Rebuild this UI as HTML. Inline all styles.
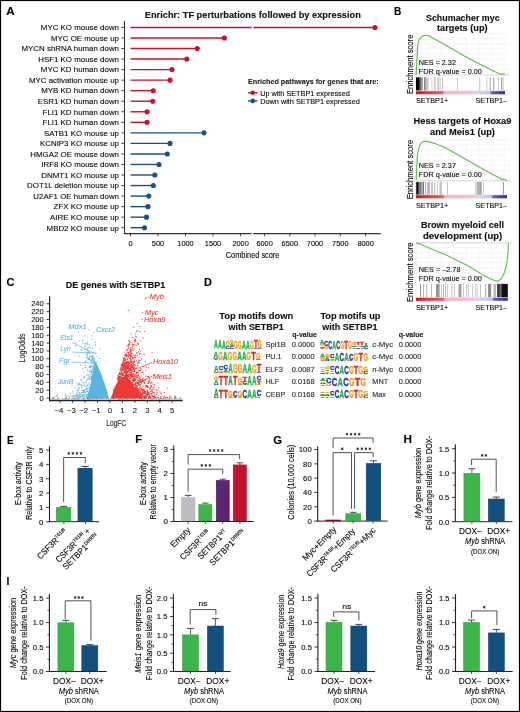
<!DOCTYPE html>
<html><head><meta charset="utf-8"><style>
html,body{margin:0;padding:0;background:#fff;}
svg{display:block;will-change:transform;}
text{font-family:"Liberation Sans", sans-serif;}
</style></head><body>
<svg width="520" height="712" viewBox="0 0 520 712">
<defs><linearGradient id="cbgrad" x1="0" x2="1" y1="0" y2="0">
<stop offset="0" stop-color="#c8101e"/><stop offset="0.12" stop-color="#e3323c"/><stop offset="0.30" stop-color="#ea5a66"/>
<stop offset="0.315" stop-color="#f4b2cb"/><stop offset="0.62" stop-color="#f2bcd3"/>
<stop offset="0.64" stop-color="#d8d4ee"/><stop offset="0.83" stop-color="#c4c2e6"/>
<stop offset="0.845" stop-color="#6464c0"/><stop offset="1" stop-color="#2a2a92"/>
</linearGradient></defs>
<rect x="0" y="0" width="520" height="712" fill="#fff"/>
<text x="6.20" y="14.80" font-size="10.8" stroke="#000" stroke-width="0.12" font-weight="bold" fill="#000" textLength="8.40" lengthAdjust="spacingAndGlyphs">A</text>
<text x="144.80" y="18.20" font-size="9.0" stroke="#111" stroke-width="0.12" font-weight="bold" fill="#111" textLength="216.00" lengthAdjust="spacingAndGlyphs">Enrichr: TF perturbations followed by expression</text>
<line x1="124.50" y1="21.00" x2="124.50" y2="234.20" stroke="#333" stroke-width="1.1"/>
<text x="119.00" y="30.25" font-size="8.1" stroke="#231f20" stroke-width="0.12" text-anchor="end" textLength="78.15" lengthAdjust="spacingAndGlyphs">MYC KO mouse down</text>
<line x1="121.30" y1="27.45" x2="124.50" y2="27.45" stroke="#333" stroke-width="0.9"/>
<line x1="130.50" y1="27.45" x2="251.70" y2="27.45" stroke="#c8102e" stroke-width="1.4"/>
<line x1="253.40" y1="27.45" x2="375.00" y2="27.45" stroke="#c8102e" stroke-width="1.4"/>
<circle cx="375.00" cy="27.45" r="2.55" fill="#c8102e"/>
<text x="119.00" y="40.79" font-size="8.1" stroke="#231f20" stroke-width="0.12" text-anchor="end" textLength="68.05" lengthAdjust="spacingAndGlyphs">MYC OE mouse up</text>
<line x1="121.30" y1="37.99" x2="124.50" y2="37.99" stroke="#333" stroke-width="0.9"/>
<line x1="130.50" y1="37.99" x2="224.30" y2="37.99" stroke="#c8102e" stroke-width="1.4"/>
<circle cx="224.30" cy="37.99" r="2.55" fill="#c8102e"/>
<text x="119.00" y="51.33" font-size="8.1" stroke="#231f20" stroke-width="0.12" text-anchor="end" textLength="97.48" lengthAdjust="spacingAndGlyphs">MYCN shRNA human down</text>
<line x1="121.30" y1="48.53" x2="124.50" y2="48.53" stroke="#333" stroke-width="0.9"/>
<line x1="130.50" y1="48.53" x2="197.30" y2="48.53" stroke="#c8102e" stroke-width="1.4"/>
<circle cx="197.30" cy="48.53" r="2.55" fill="#c8102e"/>
<text x="119.00" y="61.87" font-size="8.1" stroke="#231f20" stroke-width="0.12" text-anchor="end" textLength="80.79" lengthAdjust="spacingAndGlyphs">HSF1 KO mouse down</text>
<line x1="121.30" y1="59.07" x2="124.50" y2="59.07" stroke="#333" stroke-width="0.9"/>
<line x1="130.50" y1="59.07" x2="186.80" y2="59.07" stroke="#c8102e" stroke-width="1.4"/>
<circle cx="186.80" cy="59.07" r="2.55" fill="#c8102e"/>
<text x="119.00" y="72.41" font-size="8.1" stroke="#231f20" stroke-width="0.12" text-anchor="end" textLength="78.16" lengthAdjust="spacingAndGlyphs">MYC KD human down</text>
<line x1="121.30" y1="69.61" x2="124.50" y2="69.61" stroke="#333" stroke-width="0.9"/>
<line x1="130.50" y1="69.61" x2="172.00" y2="69.61" stroke="#c8102e" stroke-width="1.4"/>
<circle cx="172.00" cy="69.61" r="2.55" fill="#c8102e"/>
<text x="119.00" y="82.95" font-size="8.1" stroke="#231f20" stroke-width="0.12" text-anchor="end" textLength="90.01" lengthAdjust="spacingAndGlyphs">MYC activation mouse up</text>
<line x1="121.30" y1="80.15" x2="124.50" y2="80.15" stroke="#333" stroke-width="0.9"/>
<line x1="130.50" y1="80.15" x2="170.00" y2="80.15" stroke="#c8102e" stroke-width="1.4"/>
<circle cx="170.00" cy="80.15" r="2.55" fill="#c8102e"/>
<text x="119.00" y="93.49" font-size="8.1" stroke="#231f20" stroke-width="0.12" text-anchor="end" textLength="77.72" lengthAdjust="spacingAndGlyphs">MYB KD human down</text>
<line x1="121.30" y1="90.69" x2="124.50" y2="90.69" stroke="#333" stroke-width="0.9"/>
<line x1="130.50" y1="90.69" x2="153.30" y2="90.69" stroke="#c8102e" stroke-width="1.4"/>
<circle cx="153.30" cy="90.69" r="2.55" fill="#c8102e"/>
<text x="119.00" y="104.03" font-size="8.1" stroke="#231f20" stroke-width="0.12" text-anchor="end" textLength="81.24" lengthAdjust="spacingAndGlyphs">ESR1 KD human down</text>
<line x1="121.30" y1="101.23" x2="124.50" y2="101.23" stroke="#333" stroke-width="0.9"/>
<line x1="130.50" y1="101.23" x2="152.80" y2="101.23" stroke="#c8102e" stroke-width="1.4"/>
<circle cx="152.80" cy="101.23" r="2.55" fill="#c8102e"/>
<text x="119.00" y="114.57" font-size="8.1" stroke="#231f20" stroke-width="0.12" text-anchor="end" textLength="76.41" lengthAdjust="spacingAndGlyphs">FLI1 KD human down</text>
<line x1="121.30" y1="111.77" x2="124.50" y2="111.77" stroke="#333" stroke-width="0.9"/>
<line x1="130.50" y1="111.77" x2="147.00" y2="111.77" stroke="#c8102e" stroke-width="1.4"/>
<circle cx="147.00" cy="111.77" r="2.55" fill="#c8102e"/>
<text x="119.00" y="125.11" font-size="8.1" stroke="#231f20" stroke-width="0.12" text-anchor="end" textLength="76.41" lengthAdjust="spacingAndGlyphs">FLI1 KD human down</text>
<line x1="121.30" y1="122.31" x2="124.50" y2="122.31" stroke="#333" stroke-width="0.9"/>
<line x1="130.50" y1="122.31" x2="147.00" y2="122.31" stroke="#c8102e" stroke-width="1.4"/>
<circle cx="147.00" cy="122.31" r="2.55" fill="#c8102e"/>
<text x="119.00" y="135.65" font-size="8.1" stroke="#231f20" stroke-width="0.12" text-anchor="end" textLength="74.94" lengthAdjust="spacingAndGlyphs">SATB1 KO mouse up</text>
<line x1="121.30" y1="132.85" x2="124.50" y2="132.85" stroke="#333" stroke-width="0.9"/>
<line x1="130.50" y1="132.85" x2="204.00" y2="132.85" stroke="#1a4f8b" stroke-width="1.4"/>
<circle cx="204.00" cy="132.85" r="2.55" fill="#1a4f8b"/>
<text x="119.00" y="146.19" font-size="8.1" stroke="#231f20" stroke-width="0.12" text-anchor="end" textLength="79.04" lengthAdjust="spacingAndGlyphs">KCNIP3 KO mouse up</text>
<line x1="121.30" y1="143.39" x2="124.50" y2="143.39" stroke="#333" stroke-width="0.9"/>
<line x1="130.50" y1="143.39" x2="170.00" y2="143.39" stroke="#1a4f8b" stroke-width="1.4"/>
<circle cx="170.00" cy="143.39" r="2.55" fill="#1a4f8b"/>
<text x="119.00" y="156.73" font-size="8.1" stroke="#231f20" stroke-width="0.12" text-anchor="end" textLength="88.69" lengthAdjust="spacingAndGlyphs">HMGA2 OE mouse down</text>
<line x1="121.30" y1="153.93" x2="124.50" y2="153.93" stroke="#333" stroke-width="0.9"/>
<line x1="130.50" y1="153.93" x2="167.30" y2="153.93" stroke="#1a4f8b" stroke-width="1.4"/>
<circle cx="167.30" cy="153.93" r="2.55" fill="#1a4f8b"/>
<text x="119.00" y="167.27" font-size="8.1" stroke="#231f20" stroke-width="0.12" text-anchor="end" textLength="77.72" lengthAdjust="spacingAndGlyphs">IRF8 KO mouse down</text>
<line x1="121.30" y1="164.47" x2="124.50" y2="164.47" stroke="#333" stroke-width="0.9"/>
<line x1="130.50" y1="164.47" x2="159.00" y2="164.47" stroke="#1a4f8b" stroke-width="1.4"/>
<circle cx="159.00" cy="164.47" r="2.55" fill="#1a4f8b"/>
<text x="119.00" y="177.81" font-size="8.1" stroke="#231f20" stroke-width="0.12" text-anchor="end" textLength="77.71" lengthAdjust="spacingAndGlyphs">DNMT1 KO mouse up</text>
<line x1="121.30" y1="175.01" x2="124.50" y2="175.01" stroke="#333" stroke-width="0.9"/>
<line x1="130.50" y1="175.01" x2="154.80" y2="175.01" stroke="#1a4f8b" stroke-width="1.4"/>
<circle cx="154.80" cy="175.01" r="2.55" fill="#1a4f8b"/>
<text x="119.00" y="188.35" font-size="8.1" stroke="#231f20" stroke-width="0.12" text-anchor="end" textLength="91.93" lengthAdjust="spacingAndGlyphs">DOT1L deletion mouse up</text>
<line x1="121.30" y1="185.55" x2="124.50" y2="185.55" stroke="#333" stroke-width="0.9"/>
<line x1="130.50" y1="185.55" x2="153.30" y2="185.55" stroke="#1a4f8b" stroke-width="1.4"/>
<circle cx="153.30" cy="185.55" r="2.55" fill="#1a4f8b"/>
<text x="119.00" y="198.89" font-size="8.1" stroke="#231f20" stroke-width="0.12" text-anchor="end" textLength="85.63" lengthAdjust="spacingAndGlyphs">U2AF1 OE human down</text>
<line x1="121.30" y1="196.09" x2="124.50" y2="196.09" stroke="#333" stroke-width="0.9"/>
<line x1="130.50" y1="196.09" x2="148.80" y2="196.09" stroke="#1a4f8b" stroke-width="1.4"/>
<circle cx="148.80" cy="196.09" r="2.55" fill="#1a4f8b"/>
<text x="119.00" y="209.43" font-size="8.1" stroke="#231f20" stroke-width="0.12" text-anchor="end" textLength="65.42" lengthAdjust="spacingAndGlyphs">ZFX KO mouse up</text>
<line x1="121.30" y1="206.63" x2="124.50" y2="206.63" stroke="#333" stroke-width="0.9"/>
<line x1="130.50" y1="206.63" x2="148.00" y2="206.63" stroke="#1a4f8b" stroke-width="1.4"/>
<circle cx="148.00" cy="206.63" r="2.55" fill="#1a4f8b"/>
<text x="119.00" y="219.97" font-size="8.1" stroke="#231f20" stroke-width="0.12" text-anchor="end" textLength="68.94" lengthAdjust="spacingAndGlyphs">AIRE KO mouse up</text>
<line x1="121.30" y1="217.17" x2="124.50" y2="217.17" stroke="#333" stroke-width="0.9"/>
<line x1="130.50" y1="217.17" x2="146.50" y2="217.17" stroke="#1a4f8b" stroke-width="1.4"/>
<circle cx="146.50" cy="217.17" r="2.55" fill="#1a4f8b"/>
<text x="119.00" y="230.51" font-size="8.1" stroke="#231f20" stroke-width="0.12" text-anchor="end" textLength="72.45" lengthAdjust="spacingAndGlyphs">MBD2 KO mouse up</text>
<line x1="121.30" y1="227.71" x2="124.50" y2="227.71" stroke="#333" stroke-width="0.9"/>
<line x1="130.50" y1="227.71" x2="144.50" y2="227.71" stroke="#1a4f8b" stroke-width="1.4"/>
<circle cx="144.50" cy="227.71" r="2.55" fill="#1a4f8b"/>
<line x1="124.00" y1="233.60" x2="251.70" y2="233.60" stroke="#333" stroke-width="1.2"/>
<line x1="253.20" y1="233.60" x2="380.80" y2="233.60" stroke="#333" stroke-width="1.2"/>
<line x1="130.50" y1="233.60" x2="130.50" y2="236.30" stroke="#333" stroke-width="0.9"/>
<text x="130.50" y="245.80" font-size="7.2" stroke="#231f20" stroke-width="0.12" text-anchor="middle" textLength="4.10" lengthAdjust="spacingAndGlyphs">0</text>
<line x1="158.00" y1="233.60" x2="158.00" y2="236.30" stroke="#333" stroke-width="0.9"/>
<text x="158.00" y="245.80" font-size="7.2" stroke="#231f20" stroke-width="0.12" text-anchor="middle" textLength="12.30" lengthAdjust="spacingAndGlyphs">500</text>
<line x1="185.50" y1="233.60" x2="185.50" y2="236.30" stroke="#333" stroke-width="0.9"/>
<text x="185.50" y="245.80" font-size="7.2" stroke="#231f20" stroke-width="0.12" text-anchor="middle" textLength="16.40" lengthAdjust="spacingAndGlyphs">1000</text>
<line x1="213.00" y1="233.60" x2="213.00" y2="236.30" stroke="#333" stroke-width="0.9"/>
<text x="213.00" y="245.80" font-size="7.2" stroke="#231f20" stroke-width="0.12" text-anchor="middle" textLength="16.40" lengthAdjust="spacingAndGlyphs">1500</text>
<line x1="240.60" y1="233.60" x2="240.60" y2="236.30" stroke="#333" stroke-width="0.9"/>
<text x="240.60" y="245.80" font-size="7.2" stroke="#231f20" stroke-width="0.12" text-anchor="middle" textLength="16.40" lengthAdjust="spacingAndGlyphs">2000</text>
<line x1="264.60" y1="233.60" x2="264.60" y2="236.30" stroke="#333" stroke-width="0.9"/>
<text x="264.60" y="245.80" font-size="7.2" stroke="#231f20" stroke-width="0.12" text-anchor="middle" textLength="16.40" lengthAdjust="spacingAndGlyphs">6000</text>
<line x1="289.80" y1="233.60" x2="289.80" y2="236.30" stroke="#333" stroke-width="0.9"/>
<text x="289.80" y="245.80" font-size="7.2" stroke="#231f20" stroke-width="0.12" text-anchor="middle" textLength="16.40" lengthAdjust="spacingAndGlyphs">6500</text>
<line x1="315.00" y1="233.60" x2="315.00" y2="236.30" stroke="#333" stroke-width="0.9"/>
<text x="315.00" y="245.80" font-size="7.2" stroke="#231f20" stroke-width="0.12" text-anchor="middle" textLength="16.40" lengthAdjust="spacingAndGlyphs">7000</text>
<line x1="340.30" y1="233.60" x2="340.30" y2="236.30" stroke="#333" stroke-width="0.9"/>
<text x="340.30" y="245.80" font-size="7.2" stroke="#231f20" stroke-width="0.12" text-anchor="middle" textLength="16.40" lengthAdjust="spacingAndGlyphs">7500</text>
<line x1="365.60" y1="233.60" x2="365.60" y2="236.30" stroke="#333" stroke-width="0.9"/>
<text x="365.60" y="245.80" font-size="7.2" stroke="#231f20" stroke-width="0.12" text-anchor="middle" textLength="16.40" lengthAdjust="spacingAndGlyphs">8000</text>
<text x="252.60" y="257.80" font-size="8.6" stroke="#231f20" stroke-width="0.12" text-anchor="middle" textLength="53.60" lengthAdjust="spacingAndGlyphs">Combined score</text>
<text x="248.00" y="84.20" font-size="7.4" stroke="#222" stroke-width="0.12" font-weight="bold" fill="#222" textLength="130.60" lengthAdjust="spacingAndGlyphs">Enriched pathways for genes that are:</text>
<line x1="248.00" y1="92.80" x2="257.50" y2="92.80" stroke="#c8102e" stroke-width="1.4"/>
<circle cx="252.70" cy="92.80" r="2.3" fill="#c8102e"/>
<text x="260.20" y="95.50" font-size="7.6" stroke="#231f20" stroke-width="0.12" textLength="89.60" lengthAdjust="spacingAndGlyphs">Up with SETBP1 expressed</text>
<line x1="248.00" y1="100.90" x2="257.50" y2="100.90" stroke="#1a4f8b" stroke-width="1.4"/>
<circle cx="252.70" cy="100.90" r="2.3" fill="#1a4f8b"/>
<text x="260.20" y="103.60" font-size="7.6" stroke="#231f20" stroke-width="0.12" textLength="99.60" lengthAdjust="spacingAndGlyphs">Down with SETBP1 expressed</text>
<text x="394.00" y="14.90" font-size="10.8" stroke="#000" stroke-width="0.12" font-weight="bold" fill="#000" textLength="7.30" lengthAdjust="spacingAndGlyphs">B</text>
<text x="462.80" y="20.90" font-size="8.6" stroke="#111" stroke-width="0.12" text-anchor="middle" font-weight="bold" fill="#111" textLength="73.60" lengthAdjust="spacingAndGlyphs">Schumacher myc</text>
<text x="462.30" y="30.60" font-size="8.6" stroke="#111" stroke-width="0.12" text-anchor="middle" font-weight="bold" fill="#111" textLength="50.50" lengthAdjust="spacingAndGlyphs">targets (up)</text>
<line x1="416.00" y1="33.40" x2="509.00" y2="33.40" stroke="#ececec" stroke-width="0.5"/>
<line x1="416.00" y1="38.60" x2="509.00" y2="38.60" stroke="#ececec" stroke-width="0.5"/>
<line x1="416.00" y1="43.80" x2="509.00" y2="43.80" stroke="#ececec" stroke-width="0.5"/>
<line x1="416.00" y1="49.00" x2="509.00" y2="49.00" stroke="#ececec" stroke-width="0.5"/>
<line x1="416.00" y1="54.20" x2="509.00" y2="54.20" stroke="#ececec" stroke-width="0.5"/>
<line x1="416.00" y1="59.40" x2="509.00" y2="59.40" stroke="#ececec" stroke-width="0.5"/>
<line x1="416.00" y1="64.60" x2="509.00" y2="64.60" stroke="#ececec" stroke-width="0.5"/>
<line x1="416.00" y1="69.80" x2="509.00" y2="69.80" stroke="#ececec" stroke-width="0.5"/>
<line x1="416.00" y1="75.00" x2="509.00" y2="75.00" stroke="#ececec" stroke-width="0.5"/>
<line x1="428.60" y1="33.40" x2="428.60" y2="75.00" stroke="#ececec" stroke-width="0.5"/>
<line x1="441.20" y1="33.40" x2="441.20" y2="75.00" stroke="#ececec" stroke-width="0.5"/>
<line x1="453.80" y1="33.40" x2="453.80" y2="75.00" stroke="#ececec" stroke-width="0.5"/>
<line x1="466.40" y1="33.40" x2="466.40" y2="75.00" stroke="#ececec" stroke-width="0.5"/>
<line x1="479.00" y1="33.40" x2="479.00" y2="75.00" stroke="#ececec" stroke-width="0.5"/>
<line x1="491.60" y1="33.40" x2="491.60" y2="75.00" stroke="#ececec" stroke-width="0.5"/>
<line x1="504.20" y1="33.40" x2="504.20" y2="75.00" stroke="#ececec" stroke-width="0.5"/>
<line x1="416.00" y1="33.40" x2="416.00" y2="94.30" stroke="#d8d8d8" stroke-width="0.6"/>
<line x1="416.00" y1="75.00" x2="509.00" y2="75.00" stroke="#c8c8c8" stroke-width="0.6"/>
<line x1="416.00" y1="90.40" x2="509.00" y2="90.40" stroke="#d0d0d0" stroke-width="0.5"/>
<rect x="416.00" y="77.30" width="3.60" height="13.10" fill="#000"/>
<rect x="419.60" y="77.30" width="0.60" height="13.10" fill="#222"/>
<rect x="420.30" y="77.30" width="0.70" height="13.10" fill="#333"/>
<rect x="421.20" y="77.30" width="0.60" height="13.10" fill="#555"/>
<rect x="422.40" y="77.30" width="0.60" height="13.10" fill="#666"/>
<rect x="424.20" y="77.30" width="0.70" height="13.10" fill="#555"/>
<rect x="425.20" y="77.30" width="0.60" height="13.10" fill="#777"/>
<rect x="426.50" y="77.30" width="0.60" height="13.10" fill="#888"/>
<rect x="427.60" y="77.30" width="0.60" height="13.10" fill="#777"/>
<rect x="431.70" y="77.30" width="0.50" height="13.10" fill="#aaa"/>
<rect x="434.00" y="77.30" width="0.50" height="13.10" fill="#999"/>
<rect x="435.20" y="77.30" width="0.50" height="13.10" fill="#aaa"/>
<rect x="437.60" y="77.30" width="0.60" height="13.10" fill="#999"/>
<rect x="438.60" y="77.30" width="0.50" height="13.10" fill="#aaa"/>
<rect x="439.80" y="77.30" width="0.50" height="13.10" fill="#999"/>
<rect x="442.10" y="77.30" width="0.50" height="13.10" fill="#888"/>
<rect x="457.10" y="77.30" width="0.50" height="13.10" fill="#999"/>
<rect x="479.60" y="77.30" width="0.50" height="13.10" fill="#888"/>
<rect x="486.60" y="77.30" width="0.60" height="13.10" fill="#aaa"/>
<rect x="489.80" y="77.30" width="0.60" height="13.10" fill="#666"/>
<rect x="493.30" y="77.30" width="1.00" height="13.10" fill="#999"/>
<rect x="498.20" y="77.30" width="0.60" height="13.10" fill="#aaa"/>
<rect x="501.20" y="77.30" width="0.60" height="13.10" fill="#666"/>
<rect x="502.80" y="77.30" width="0.60" height="13.10" fill="#999"/>
<rect x="416.00" y="91.20" width="89.00" height="3.10" fill="url(#cbgrad)"/>
<path d="M416.20 74.60 L416.80 62.00 L417.80 45.30 L419.00 40.00 L420.20 38.20 L421.80 36.50 L423.60 35.50 L428.20 35.50 L435.00 39.30 L447.30 46.00 L464.00 55.70 L476.00 62.30 L489.60 69.10 L495.00 71.80 L498.10 73.20 L501.00 74.20 L502.50 73.60 L503.50 74.00 L505.00 74.60" stroke="#5cbf4a" stroke-width="1.1" fill="none" stroke-linejoin="round"/>
<text x="418.80" y="65.00" font-size="7.9" stroke="#231f20" stroke-width="0.12" textLength="37.10" lengthAdjust="spacingAndGlyphs">NES = 2.32</text>
<text x="418.80" y="73.50" font-size="7.9" stroke="#231f20" stroke-width="0.12" textLength="63.00" lengthAdjust="spacingAndGlyphs">FDR q-value = 0.00</text>
<text x="415.90" y="103.30" font-size="8.1" stroke="#231f20" stroke-width="0.12" textLength="32.40" lengthAdjust="spacingAndGlyphs">SETBP1+</text>
<text x="475.60" y="103.30" font-size="8.1" stroke="#231f20" stroke-width="0.12" textLength="31.40" lengthAdjust="spacingAndGlyphs">SETBP1–</text>
<text x="413.00" y="64.35" font-size="8.4" stroke="#231f20" stroke-width="0.12" text-anchor="middle" textLength="59.50" lengthAdjust="spacingAndGlyphs" transform="rotate(-90 413.00 64.35)">Enrichment score</text>
<text x="462.45" y="123.80" font-size="8.6" stroke="#111" stroke-width="0.12" text-anchor="middle" font-weight="bold" fill="#111" textLength="97.90" lengthAdjust="spacingAndGlyphs">Hess targets of Hoxa9</text>
<text x="462.45" y="135.00" font-size="8.6" stroke="#111" stroke-width="0.12" text-anchor="middle" font-weight="bold" fill="#111" textLength="64.90" lengthAdjust="spacingAndGlyphs">and Meis1 (up)</text>
<line x1="416.00" y1="139.90" x2="511.00" y2="139.90" stroke="#ececec" stroke-width="0.5"/>
<line x1="416.00" y1="145.01" x2="511.00" y2="145.01" stroke="#ececec" stroke-width="0.5"/>
<line x1="416.00" y1="150.12" x2="511.00" y2="150.12" stroke="#ececec" stroke-width="0.5"/>
<line x1="416.00" y1="155.24" x2="511.00" y2="155.24" stroke="#ececec" stroke-width="0.5"/>
<line x1="416.00" y1="160.35" x2="511.00" y2="160.35" stroke="#ececec" stroke-width="0.5"/>
<line x1="416.00" y1="165.46" x2="511.00" y2="165.46" stroke="#ececec" stroke-width="0.5"/>
<line x1="416.00" y1="170.58" x2="511.00" y2="170.58" stroke="#ececec" stroke-width="0.5"/>
<line x1="416.00" y1="175.69" x2="511.00" y2="175.69" stroke="#ececec" stroke-width="0.5"/>
<line x1="416.00" y1="180.80" x2="511.00" y2="180.80" stroke="#ececec" stroke-width="0.5"/>
<line x1="428.60" y1="139.90" x2="428.60" y2="180.80" stroke="#ececec" stroke-width="0.5"/>
<line x1="441.20" y1="139.90" x2="441.20" y2="180.80" stroke="#ececec" stroke-width="0.5"/>
<line x1="453.80" y1="139.90" x2="453.80" y2="180.80" stroke="#ececec" stroke-width="0.5"/>
<line x1="466.40" y1="139.90" x2="466.40" y2="180.80" stroke="#ececec" stroke-width="0.5"/>
<line x1="479.00" y1="139.90" x2="479.00" y2="180.80" stroke="#ececec" stroke-width="0.5"/>
<line x1="491.60" y1="139.90" x2="491.60" y2="180.80" stroke="#ececec" stroke-width="0.5"/>
<line x1="504.20" y1="139.90" x2="504.20" y2="180.80" stroke="#ececec" stroke-width="0.5"/>
<line x1="416.00" y1="139.90" x2="416.00" y2="198.30" stroke="#d8d8d8" stroke-width="0.6"/>
<line x1="416.00" y1="180.80" x2="511.00" y2="180.80" stroke="#c8c8c8" stroke-width="0.6"/>
<line x1="416.00" y1="194.60" x2="511.00" y2="194.60" stroke="#d0d0d0" stroke-width="0.5"/>
<rect x="416.20" y="181.90" width="2.50" height="12.70" fill="#111"/>
<rect x="418.80" y="181.90" width="0.80" height="12.70" fill="#333"/>
<rect x="420.30" y="181.90" width="1.00" height="12.70" fill="#444"/>
<rect x="421.80" y="181.90" width="0.70" height="12.70" fill="#555"/>
<rect x="423.00" y="181.90" width="0.80" height="12.70" fill="#555"/>
<rect x="425.40" y="181.90" width="0.60" height="12.70" fill="#777"/>
<rect x="427.10" y="181.90" width="0.50" height="12.70" fill="#888"/>
<rect x="428.40" y="181.90" width="0.60" height="12.70" fill="#777"/>
<rect x="429.40" y="181.90" width="0.50" height="12.70" fill="#888"/>
<rect x="431.10" y="181.90" width="0.50" height="12.70" fill="#999"/>
<rect x="432.40" y="181.90" width="0.50" height="12.70" fill="#888"/>
<rect x="434.60" y="181.90" width="0.50" height="12.70" fill="#777"/>
<rect x="437.50" y="181.90" width="0.50" height="12.70" fill="#999"/>
<rect x="439.80" y="181.90" width="0.60" height="12.70" fill="#666"/>
<rect x="441.50" y="181.90" width="0.50" height="12.70" fill="#999"/>
<rect x="447.30" y="181.90" width="0.50" height="12.70" fill="#888"/>
<rect x="475.70" y="181.90" width="0.60" height="12.70" fill="#777"/>
<rect x="477.60" y="181.90" width="0.70" height="12.70" fill="#555"/>
<rect x="478.80" y="181.90" width="0.60" height="12.70" fill="#444"/>
<rect x="480.20" y="181.90" width="0.60" height="12.70" fill="#666"/>
<rect x="481.30" y="181.90" width="0.50" height="12.70" fill="#777"/>
<rect x="483.10" y="181.90" width="0.50" height="12.70" fill="#999"/>
<rect x="503.30" y="181.90" width="0.60" height="12.70" fill="#555"/>
<rect x="416.00" y="195.20" width="91.00" height="3.10" fill="url(#cbgrad)"/>
<path d="M416.20 180.00 L416.80 165.00 L417.70 153.70 L419.30 146.30 L421.20 143.00 L423.60 141.40 L426.50 141.30 L430.00 142.10 L435.00 143.50 L440.00 145.40 L445.00 147.60 L450.00 150.20 L460.00 155.90 L470.00 161.70 L480.00 167.40 L490.00 172.90 L497.00 176.80 L502.60 180.00 L503.60 178.80 L504.60 179.40 L507.00 180.80" stroke="#5cbf4a" stroke-width="1.1" fill="none" stroke-linejoin="round"/>
<text x="418.80" y="167.80" font-size="7.9" stroke="#231f20" stroke-width="0.12" textLength="37.10" lengthAdjust="spacingAndGlyphs">NES = 2.37</text>
<text x="418.80" y="176.70" font-size="7.9" stroke="#231f20" stroke-width="0.12" textLength="63.00" lengthAdjust="spacingAndGlyphs">FDR q-value = 0.00</text>
<text x="415.90" y="207.50" font-size="8.1" stroke="#231f20" stroke-width="0.12" textLength="32.40" lengthAdjust="spacingAndGlyphs">SETBP1+</text>
<text x="475.60" y="207.50" font-size="8.1" stroke="#231f20" stroke-width="0.12" textLength="31.40" lengthAdjust="spacingAndGlyphs">SETBP1–</text>
<text x="413.00" y="169.60" font-size="8.4" stroke="#231f20" stroke-width="0.12" text-anchor="middle" textLength="59.50" lengthAdjust="spacingAndGlyphs" transform="rotate(-90 413.00 169.60)">Enrichment score</text>
<text x="462.45" y="228.00" font-size="8.6" stroke="#111" stroke-width="0.12" text-anchor="middle" font-weight="bold" fill="#111" textLength="83.10" lengthAdjust="spacingAndGlyphs">Brown myeloid cell</text>
<text x="462.65" y="238.60" font-size="8.6" stroke="#111" stroke-width="0.12" text-anchor="middle" font-weight="bold" fill="#111" textLength="79.30" lengthAdjust="spacingAndGlyphs">development (up)</text>
<line x1="416.00" y1="242.80" x2="511.80" y2="242.80" stroke="#ececec" stroke-width="0.5"/>
<line x1="416.00" y1="247.75" x2="511.80" y2="247.75" stroke="#ececec" stroke-width="0.5"/>
<line x1="416.00" y1="252.70" x2="511.80" y2="252.70" stroke="#ececec" stroke-width="0.5"/>
<line x1="416.00" y1="257.65" x2="511.80" y2="257.65" stroke="#ececec" stroke-width="0.5"/>
<line x1="416.00" y1="262.60" x2="511.80" y2="262.60" stroke="#ececec" stroke-width="0.5"/>
<line x1="416.00" y1="267.55" x2="511.80" y2="267.55" stroke="#ececec" stroke-width="0.5"/>
<line x1="416.00" y1="272.50" x2="511.80" y2="272.50" stroke="#ececec" stroke-width="0.5"/>
<line x1="416.00" y1="277.45" x2="511.80" y2="277.45" stroke="#ececec" stroke-width="0.5"/>
<line x1="416.00" y1="282.40" x2="511.80" y2="282.40" stroke="#ececec" stroke-width="0.5"/>
<line x1="428.60" y1="242.80" x2="428.60" y2="282.40" stroke="#ececec" stroke-width="0.5"/>
<line x1="441.20" y1="242.80" x2="441.20" y2="282.40" stroke="#ececec" stroke-width="0.5"/>
<line x1="453.80" y1="242.80" x2="453.80" y2="282.40" stroke="#ececec" stroke-width="0.5"/>
<line x1="466.40" y1="242.80" x2="466.40" y2="282.40" stroke="#ececec" stroke-width="0.5"/>
<line x1="479.00" y1="242.80" x2="479.00" y2="282.40" stroke="#ececec" stroke-width="0.5"/>
<line x1="491.60" y1="242.80" x2="491.60" y2="282.40" stroke="#ececec" stroke-width="0.5"/>
<line x1="504.20" y1="242.80" x2="504.20" y2="282.40" stroke="#ececec" stroke-width="0.5"/>
<line x1="416.00" y1="242.80" x2="416.00" y2="300.80" stroke="#d8d8d8" stroke-width="0.6"/>
<line x1="416.00" y1="242.80" x2="511.80" y2="242.80" stroke="#c8c8c8" stroke-width="0.6"/>
<line x1="416.00" y1="297.20" x2="511.80" y2="297.20" stroke="#d0d0d0" stroke-width="0.5"/>
<rect x="420.20" y="283.90" width="0.60" height="13.30" fill="#555"/>
<rect x="423.50" y="283.90" width="0.50" height="13.30" fill="#777"/>
<rect x="426.60" y="283.90" width="0.50" height="13.30" fill="#777"/>
<rect x="431.50" y="283.90" width="0.50" height="13.30" fill="#777"/>
<rect x="436.40" y="283.90" width="0.60" height="13.30" fill="#555"/>
<rect x="437.40" y="283.90" width="0.60" height="13.30" fill="#444"/>
<rect x="438.30" y="283.90" width="0.60" height="13.30" fill="#666"/>
<rect x="439.50" y="283.90" width="0.50" height="13.30" fill="#777"/>
<rect x="441.30" y="283.90" width="0.50" height="13.30" fill="#888"/>
<rect x="443.20" y="283.90" width="0.50" height="13.30" fill="#777"/>
<rect x="445.00" y="283.90" width="0.50" height="13.30" fill="#888"/>
<rect x="447.50" y="283.90" width="0.50" height="13.30" fill="#999"/>
<rect x="451.70" y="283.90" width="0.50" height="13.30" fill="#888"/>
<rect x="454.30" y="283.90" width="0.50" height="13.30" fill="#999"/>
<rect x="458.60" y="283.90" width="1.00" height="13.30" fill="#888"/>
<rect x="459.80" y="283.90" width="0.80" height="13.30" fill="#666"/>
<rect x="460.80" y="283.90" width="0.50" height="13.30" fill="#777"/>
<rect x="463.50" y="283.90" width="0.50" height="13.30" fill="#999"/>
<rect x="466.00" y="283.90" width="0.50" height="13.30" fill="#888"/>
<rect x="468.40" y="283.90" width="0.50" height="13.30" fill="#999"/>
<rect x="472.30" y="283.90" width="0.50" height="13.30" fill="#999"/>
<rect x="475.20" y="283.90" width="0.50" height="13.30" fill="#aaa"/>
<rect x="476.80" y="283.90" width="0.50" height="13.30" fill="#999"/>
<rect x="480.10" y="283.90" width="0.50" height="13.30" fill="#888"/>
<rect x="485.50" y="283.90" width="0.60" height="13.30" fill="#777"/>
<rect x="488.10" y="283.90" width="3.00" height="13.30" fill="#8a8a8a"/>
<rect x="493.50" y="283.90" width="2.50" height="13.30" fill="#bbb"/>
<rect x="497.00" y="283.90" width="3.50" height="13.30" fill="#444"/>
<rect x="500.60" y="283.90" width="1.00" height="13.30" fill="#222"/>
<rect x="501.60" y="283.90" width="6.20" height="13.30" fill="#111"/>
<rect x="416.00" y="297.80" width="91.80" height="3.00" fill="url(#cbgrad)"/>
<path d="M416.00 242.80 L417.70 243.80 L419.80 243.40 L422.00 245.00 L426.20 246.80 L447.30 255.50 L468.50 266.00 L481.80 274.40 L489.60 278.40 L494.00 280.20 L498.00 281.20 L501.40 278.70 L504.20 273.00 L506.30 266.50 L507.30 259.00 L507.80 254.60 L508.50 243.00" stroke="#5cbf4a" stroke-width="1.1" fill="none" stroke-linejoin="round"/>
<text x="418.80" y="271.80" font-size="7.9" stroke="#231f20" stroke-width="0.12" textLength="41.70" lengthAdjust="spacingAndGlyphs">NES = –2.78</text>
<text x="418.80" y="280.70" font-size="7.9" stroke="#231f20" stroke-width="0.12" textLength="63.00" lengthAdjust="spacingAndGlyphs">FDR q-value = 0.00</text>
<text x="415.90" y="309.50" font-size="8.1" stroke="#231f20" stroke-width="0.12" textLength="32.40" lengthAdjust="spacingAndGlyphs">SETBP1+</text>
<text x="475.60" y="309.50" font-size="8.1" stroke="#231f20" stroke-width="0.12" textLength="31.40" lengthAdjust="spacingAndGlyphs">SETBP1–</text>
<text x="413.00" y="272.30" font-size="8.4" stroke="#231f20" stroke-width="0.12" text-anchor="middle" textLength="59.50" lengthAdjust="spacingAndGlyphs" transform="rotate(-90 413.00 272.30)">Enrichment score</text>
<text x="6.50" y="285.60" font-size="10.8" stroke="#000" stroke-width="0.12" font-weight="bold" fill="#000" textLength="7.90" lengthAdjust="spacingAndGlyphs">C</text>
<text x="65.70" y="288.30" font-size="9.0" stroke="#111" stroke-width="0.12" font-weight="bold" fill="#111" textLength="99.60" lengthAdjust="spacingAndGlyphs">DE genes with SETBP1</text>
<path d="M87.5 398.4 L90.0 387 L92.3 376 L94.0 367 L95.5 362.0 L97.0 364.5 L100.5 372.5 L103.5 381 L106.5 389.5 L108.8 398.4 Z" stroke="none" stroke-width="1" fill="#5ab4e4"/>
<path d="M111.0 398.4 L113.8 390 L116.6 383.5 L119.5 379.5 L122.5 377.5 L126 377 L129.5 379.5 L132.5 384 L136 390 L140 395 L143 398.4 Z" stroke="none" stroke-width="1" fill="#ee3a34"/>
<path d="M94.0 362.9h0M94.1 374.5h0M91.5 373.1h0M96.5 367.5h0M88.7 358.1h0M88.6 394.5h0M91.6 376.7h0M96.2 370.7h0M97.0 379.1h0M96.2 364.6h0M92.6 380.5h0M93.7 371.6h0M93.3 383.5h0M91.9 366.7h0M96.6 391.0h0M87.3 374.6h0M94.6 381.5h0M96.9 371.0h0M89.4 358.5h0M95.5 388.3h0M97.3 378.7h0M93.3 387.8h0M91.3 377.5h0M89.5 366.7h0M96.4 380.4h0M90.7 356.4h0M95.9 364.0h0M89.0 352.2h0M87.5 379.0h0M98.2 395.5h0M90.0 347.6h0M97.1 372.2h0M92.5 375.9h0M91.7 356.8h0M100.6 376.3h0M89.8 372.0h0M94.4 374.3h0M100.3 384.5h0M99.8 387.9h0M92.0 361.3h0M96.3 368.1h0M94.3 366.2h0M97.2 370.1h0M93.4 375.3h0M93.7 364.7h0M90.7 366.7h0M96.5 366.8h0M93.4 360.9h0M96.1 377.4h0M92.9 371.5h0M94.1 371.0h0M84.6 376.9h0M98.8 386.5h0M88.5 375.0h0M93.7 361.4h0M99.1 390.4h0M97.6 391.0h0M94.4 367.4h0M99.0 374.2h0M98.5 373.8h0M89.2 391.2h0M97.3 383.6h0M91.1 390.7h0M100.6 383.2h0M95.0 386.1h0M98.8 372.6h0M87.5 350.4h0M94.6 378.5h0M100.7 384.4h0M92.2 355.8h0M95.4 368.4h0M86.3 375.5h0M88.0 358.6h0M96.2 378.7h0M92.4 357.8h0M87.9 385.3h0M87.5 355.1h0M90.3 370.3h0M94.3 370.5h0M92.8 366.8h0M94.2 387.7h0M92.9 355.1h0M88.7 378.5h0M95.6 386.6h0M89.1 379.0h0M98.5 378.0h0M91.6 380.9h0M89.2 371.7h0M90.5 365.0h0M86.0 365.5h0M92.6 397.3h0M97.8 374.0h0M86.5 382.4h0M96.1 376.5h0M93.9 376.7h0M102.4 394.7h0M91.5 360.4h0M91.6 371.3h0M94.9 372.8h0M91.1 375.1h0M91.8 381.9h0M94.7 362.8h0M87.6 355.6h0M96.2 379.9h0M89.7 379.4h0M96.1 367.5h0M93.5 383.7h0M90.5 388.9h0M91.7 366.5h0M86.8 380.6h0M94.8 362.8h0M92.2 371.8h0M97.4 367.2h0M93.8 359.1h0M95.2 381.7h0M92.6 370.1h0M94.6 367.9h0M95.0 367.6h0M94.5 387.7h0M96.7 372.7h0M96.7 383.6h0M87.8 369.3h0M91.5 359.7h0M93.5 389.3h0M92.1 362.8h0M96.9 367.6h0M94.9 361.7h0M98.9 385.3h0M94.4 359.9h0M93.7 357.9h0M90.6 367.5h0M98.0 369.8h0M95.8 369.3h0M94.1 360.5h0M91.0 378.9h0M95.0 390.6h0M92.4 362.1h0M97.2 370.9h0M94.1 389.9h0M99.2 382.5h0M94.3 395.6h0M87.8 370.8h0M97.4 394.8h0M88.1 385.0h0M92.6 389.7h0M95.1 366.6h0M90.0 377.2h0M91.0 385.2h0M94.7 370.0h0M96.9 392.3h0M90.3 370.4h0M94.2 374.5h0M94.8 380.7h0M94.7 379.5h0M91.3 369.6h0M89.3 367.3h0M95.6 389.4h0M94.0 374.5h0M94.9 382.0h0M94.5 371.0h0M92.3 389.1h0M93.6 380.5h0M90.8 371.7h0M93.1 368.6h0M97.0 375.9h0M92.1 366.6h0M96.9 372.3h0M96.9 385.2h0M99.5 384.3h0M94.2 369.8h0M92.8 397.9h0M83.0 395.8h0M89.9 391.7h0M83.1 382.3h0M95.3 397.9h0M88.3 394.2h0M94.1 391.8h0M90.4 393.8h0M83.5 391.6h0M93.7 398.0h0M83.6 390.8h0M86.8 395.3h0M94.6 387.9h0M84.4 377.5h0M87.0 391.0h0M83.8 397.7h0M78.3 382.0h0M93.8 387.2h0M79.5 383.5h0M92.9 394.0h0M86.7 395.3h0M86.4 388.3h0M87.1 385.2h0M86.6 395.3h0M89.3 396.0h0M82.5 396.7h0M84.6 384.0h0M90.8 397.1h0M84.6 391.8h0M82.3 394.9h0M88.5 393.5h0M89.8 379.2h0M83.5 398.0h0M101.0 381.3h0M84.4 396.6h0M87.8 394.4h0M85.8 394.8h0M87.3 391.2h0M77.5 390.1h0M87.0 388.8h0M81.8 392.5h0M83.8 392.4h0M90.7 395.3h0M89.5 397.2h0M80.0 397.8h0M89.3 393.3h0M86.5 391.4h0M82.6 392.3h0M96.3 393.1h0M87.7 396.7h0M94.7 395.3h0M91.5 391.9h0M86.9 398.0h0M78.1 385.1h0M91.5 382.4h0M90.7 396.9h0M89.2 394.8h0M79.5 396.2h0M94.5 392.9h0M81.9 385.9h0M80.9 395.1h0M95.5 394.2h0M88.2 378.0h0M84.4 392.0h0M89.6 393.2h0M81.9 387.6h0M88.5 395.9h0M80.5 396.3h0M84.3 394.0h0M86.4 397.3h0M85.2 388.6h0M94.0 394.8h0M91.2 391.3h0M87.4 391.4h0M94.6 394.7h0M86.6 396.3h0M79.5 398.0h0M83.6 394.8h0M81.4 380.3h0M87.2 395.8h0M84.3 390.1h0M85.6 392.6h0M89.4 384.0h0M83.6 397.9h0M91.2 396.6h0M88.5 392.2h0M88.5 383.1h0M83.6 376.8h0M83.8 397.9h0M87.9 388.9h0M80.8 379.2h0M90.0 390.9h0M90.1 374.4h0M88.0 395.8h0M91.6 394.8h0M95.3 387.0h0M85.1 367.1h0M91.1 394.7h0M91.6 378.7h0M87.0 395.8h0M84.5 390.6h0M83.8 392.3h0M87.2 397.5h0M86.1 389.9h0M89.5 396.8h0M90.3 396.7h0M81.2 385.0h0M89.3 389.5h0M92.4 395.0h0M79.2 383.6h0M80.8 393.6h0M80.1 397.4h0M70.5 393.2h0M79.2 396.7h0M80.9 397.7h0M82.7 396.2h0M78.8 387.4h0M76.7 394.7h0M86.4 396.3h0M78.3 390.2h0M77.2 394.4h0M88.2 397.9h0M85.7 394.5h0M80.1 397.7h0M79.6 392.5h0M92.1 394.8h0M75.8 395.6h0M73.2 395.6h0M82.1 396.7h0M81.9 390.4h0M83.2 390.4h0M75.2 395.3h0M76.8 393.8h0M79.4 396.1h0M82.0 390.2h0M79.0 396.3h0M85.8 396.8h0M71.9 385.6h0M91.1 388.2h0M78.8 396.0h0M84.3 394.8h0M77.5 392.8h0M79.6 392.9h0M73.0 393.0h0M78.9 388.4h0M77.6 395.9h0M81.5 394.6h0M74.1 396.1h0M78.7 394.8h0M79.1 394.3h0M87.1 357.7h0M78.6 332.2h0M87.4 353.5h0M93.6 368.0h0M81.9 349.9h0M97.0 373.6h0M94.6 362.1h0M85.3 361.8h0M89.0 359.1h0M89.6 359.4h0M92.8 366.4h0M86.0 344.6h0M89.6 356.8h0M87.6 348.3h0M87.8 344.2h0M102.1 381.1h0M88.8 347.6h0M90.5 360.5h0M82.8 343.7h0M82.4 340.4h0M88.1 351.5h0M84.0 371.8h0M86.9 343.6h0M79.7 356.4h0M95.4 380.1h0M89.4 352.7h0M92.3 358.9h0M91.8 360.7h0M83.0 341.1h0M92.5 359.2h0M86.1 354.3h0M89.3 376.3h0M91.1 356.2h0M92.3 357.8h0M85.9 361.2h0M88.0 359.8h0M85.2 346.1h0M84.5 345.8h0M85.9 349.2h0M87.3 352.6h0M91.7 372.2h0M88.0 351.3h0M88.7 352.2h0M89.6 353.3h0M89.6 356.5h0M72.5 396.2h0M66.3 398.0h0M66.1 397.2h0M78.6 397.8h0M76.0 395.6h0M72.5 396.1h0M57.4 395.6h0M65.8 395.7h0M77.6 397.7h0M74.1 395.8h0M53.8 397.2h0M73.2 397.7h0M77.1 397.4h0M74.8 397.7h0M66.1 395.8h0M57.8 397.4h0M66.2 397.3h0M53.0 397.6h0M56.5 395.8h0M71.0 395.9h0M56.7 396.1h0M55.2 396.8h0M69.8 397.2h0M76.4 396.7h0M68.2 395.9h0M89.7 398.1h0M100.9 376.4h0M95.2 389.8h0M96.9 368.4h0M101.1 397.8h0M100.0 386.2h0M100.6 377.7h0M98.4 394.6h0M92.3 383.2h0M100.8 379.3h0M90.4 396.1h0M106.1 390.5h0M96.1 371.6h0M99.5 374.8h0M101.3 378.2h0M92.8 394.9h0M96.1 370.7h0M91.7 384.1h0M98.3 385.4h0M94.1 372.9h0M88.5 394.4h0M104.2 388.0h0M94.6 389.3h0M102.3 392.8h0M99.3 377.9h0M93.2 385.4h0M103.3 396.4h0M92.6 395.0h0M100.9 387.2h0M101.7 397.6h0M97.5 392.6h0M102.4 393.2h0M96.8 388.4h0M99.6 373.2h0M92.0 384.7h0M89.2 395.2h0M89.8 395.8h0M94.8 367.2h0M102.3 385.1h0M102.3 388.8h0M95.2 391.8h0M105.0 394.4h0M88.9 393.6h0M107.0 396.4h0M105.6 391.6h0M101.0 392.0h0M94.3 377.4h0M93.5 388.1h0M95.3 373.7h0M96.8 390.1h0M94.9 387.6h0M99.0 369.9h0M103.7 397.6h0M98.0 391.0h0M94.9 392.3h0M93.1 396.4h0M93.5 369.8h0M102.4 380.1h0M89.2 390.7h0M102.3 390.6h0M100.9 374.9h0M96.0 376.4h0M95.6 394.2h0M92.5 378.8h0M98.8 389.5h0M103.5 385.5h0M94.9 373.9h0M90.8 392.7h0M101.6 389.0h0M104.0 383.1h0M102.5 392.7h0M92.8 373.9h0M94.5 368.9h0M89.7 397.0h0M91.7 385.2h0M95.8 363.2h0M96.0 390.8h0M102.3 380.2h0M101.0 378.9h0M96.1 389.0h0M99.7 389.3h0M96.5 370.3h0M102.9 394.0h0M104.0 387.5h0M101.2 378.5h0M94.2 384.9h0M104.2 388.0h0M96.5 378.6h0M100.7 376.9h0M101.9 395.9h0M91.4 385.8h0M97.9 397.5h0M90.9 390.5h0M99.0 388.1h0M98.4 385.3h0M96.2 396.5h0M92.0 386.9h0M95.9 389.8h0M90.1 397.8h0M95.1 364.1h0M93.3 376.5h0M96.5 387.4h0M95.0 371.7h0M92.3 389.0h0M92.2 391.2h0M95.8 369.7h0M90.3 390.3h0M104.7 385.1h0M97.5 382.5h0M92.3 397.1h0M95.0 385.3h0M104.9 391.7h0M97.5 372.7h0M95.5 371.2h0M96.6 368.8h0M93.5 370.9h0M93.9 379.5h0M96.6 385.2h0M107.3 393.1h0M90.5 392.3h0M92.5 390.3h0M94.9 367.6h0M106.8 390.8h0M91.1 394.4h0M100.5 390.4h0M101.7 394.5h0M104.3 392.5h0M91.7 387.2h0M98.8 389.0h0M96.8 394.1h0M99.3 371.6h0M97.4 367.3h0M98.0 380.1h0M99.0 393.4h0M97.5 382.5h0M101.7 392.6h0M95.5 377.2h0M101.1 385.2h0M102.0 395.9h0M94.5 397.7h0M98.4 379.6h0M102.8 384.8h0M94.7 393.4h0M95.3 379.3h0M98.7 390.0h0M92.0 377.8h0M96.5 382.2h0M98.2 371.9h0M98.3 397.5h0M101.4 390.8h0M94.5 373.5h0M93.9 383.3h0M101.0 390.5h0M101.5 390.7h0M100.6 384.8h0M102.3 383.7h0M101.7 378.7h0M104.0 395.3h0M101.5 375.4h0M105.0 390.6h0M99.5 371.4h0M93.9 377.4h0M94.3 377.7h0M101.2 396.0h0M100.1 396.1h0M96.3 365.7h0M90.1 397.2h0M89.4 393.7h0M102.7 393.1h0M100.9 387.8h0M97.3 395.9h0M92.9 397.1h0M94.1 388.6h0M91.0 393.3h0M95.3 382.9h0M96.8 386.6h0M90.6 391.0h0M95.2 385.5h0M100.9 377.2h0M95.7 390.6h0M99.6 372.6h0M88.8 397.5h0M102.5 392.1h0M94.6 384.1h0M100.3 373.2h0M96.6 394.3h0M95.5 386.9h0M100.3 394.6h0M96.5 383.4h0M104.9 394.3h0M104.8 393.6h0M99.7 372.0h0M105.6 391.4h0M102.1 395.3h0M94.9 365.1h0M99.3 391.0h0M91.8 389.3h0M100.4 386.7h0M97.4 369.5h0M92.9 389.3h0M89.4 391.4h0M99.8 394.6h0M97.7 383.5h0M91.3 387.5h0M95.2 382.5h0M96.1 380.8h0M100.2 374.6h0M88.2 398.1h0M99.6 371.5h0M104.9 397.1h0M99.4 393.7h0M97.3 396.5h0M100.2 376.5h0M90.1 396.9h0M93.0 382.5h0M101.1 396.8h0M101.8 376.3h0M97.0 367.8h0M108.1 398.1h0M92.9 374.8h0M106.7 394.9h0M104.2 387.8h0M101.3 397.9h0M103.6 396.2h0M100.1 389.6h0M97.8 368.1h0M88.3 395.8h0M92.2 396.0h0M106.0 394.3h0M89.6 395.8h0M97.1 374.4h0M102.7 382.1h0M90.6 393.7h0M93.2 377.0h0M94.3 394.9h0M89.9 397.6h0M88.7 394.6h0M97.7 372.4h0M95.3 398.1h0M91.3 390.0h0M100.5 380.0h0M100.5 387.8h0M105.4 393.5h0M91.5 392.3h0M95.3 368.0h0M95.4 383.7h0M97.0 380.8h0M90.1 388.0h0M104.9 393.5h0M94.3 387.9h0M89.0 329.9h0M93.4 332.8h0M84.4 335.9h0M87.9 337.0h0M91.7 335.9h0M91.7 339.3h0M79.5 341.1h0M85.2 343.4h0M87.1 342.2h0M89.6 345.1h0M95.4 342.2h0M95.4 344.8h0M76.0 342.8h0M75.8 345.7h0M81.0 349.7h0M83.3 348.6h0M100.0 349.2h0M92.5 348.6h0M86.2 357.8h0M90.8 356.1h0M93.0 357.2h0M99.4 358.4h0M88.5 359.0h0M80.4 365.3h0M85.6 367.6h0M82.7 368.8h0M98.8 361.8h0M93.5 352.2h0M95.5 353.5h0M94.0 363.3h0M96.5 362.5h0M91.0 360.0h0M97.0 356.0h0M92.0 366.0h0M96.0 367.0h0M65.3 394.4h0M72.8 391.0h0M75.7 387.0h0M78.0 391.0h0" stroke="#5ab4e4" stroke-width="1.25" stroke-linecap="round" fill="none"/>
<path d="M138.2 362.2h0M132.8 376.4h0M123.6 372.7h0M129.9 374.0h0M126.3 366.6h0M128.1 371.0h0M123.5 380.2h0M134.4 370.1h0M117.4 379.4h0M124.0 377.9h0M132.6 387.2h0M128.4 370.2h0M124.3 365.6h0M121.8 368.2h0M130.5 358.6h0M124.9 379.9h0M129.6 385.5h0M126.1 383.8h0M125.4 360.4h0M130.4 395.2h0M133.0 366.9h0M140.8 380.0h0M125.0 358.5h0M120.5 381.3h0M122.4 373.0h0M128.8 371.2h0M136.9 376.4h0M134.1 379.2h0M130.3 397.3h0M126.4 374.4h0M121.5 380.0h0M122.6 381.5h0M121.2 378.9h0M130.5 375.4h0M131.8 360.1h0M133.1 376.4h0M124.1 357.6h0M121.1 373.7h0M127.6 367.3h0M123.8 362.7h0M132.5 363.5h0M130.1 387.2h0M128.3 352.6h0M119.0 381.6h0M123.1 363.1h0M126.5 356.8h0M131.5 371.2h0M128.3 379.4h0M126.4 368.0h0M130.2 382.2h0M131.4 367.2h0M128.9 366.2h0M136.1 377.5h0M128.6 362.4h0M114.8 389.0h0M128.7 386.3h0M124.2 393.5h0M125.5 386.8h0M127.4 392.0h0M128.1 375.6h0M125.4 373.0h0M125.9 389.3h0M118.4 378.0h0M128.0 397.9h0M119.7 380.0h0M124.0 382.8h0M128.1 396.7h0M127.4 362.0h0M130.6 358.7h0M122.4 374.8h0M130.4 377.6h0M132.4 392.8h0M129.6 374.4h0M127.2 371.8h0M117.5 378.1h0M135.6 382.9h0M122.2 384.0h0M121.2 386.3h0M130.5 364.8h0M132.9 375.4h0M131.4 372.4h0M127.9 362.1h0M138.0 375.4h0M121.6 372.6h0M133.4 384.3h0M130.6 380.9h0M128.2 363.1h0M126.7 364.5h0M118.5 385.0h0M123.7 375.0h0M131.0 371.8h0M130.1 386.6h0M122.7 379.6h0M118.6 378.1h0M128.0 366.9h0M125.2 378.3h0M128.5 367.4h0M115.4 387.5h0M126.0 371.3h0M125.8 383.5h0M123.6 384.0h0M127.7 363.1h0M137.3 355.6h0M119.4 378.1h0M138.9 362.9h0M125.0 368.2h0M137.5 382.9h0M127.4 382.2h0M125.3 359.2h0M124.0 381.1h0M125.2 364.1h0M122.2 365.6h0M130.7 374.0h0M121.8 374.5h0M122.9 369.4h0M134.4 355.1h0M121.9 364.3h0M127.1 362.2h0M125.2 368.6h0M121.7 382.3h0M131.1 355.2h0M129.6 366.4h0M126.9 378.0h0M126.4 379.3h0M129.5 341.3h0M120.0 372.4h0M121.5 370.1h0M123.5 381.8h0M132.5 382.3h0M121.4 364.9h0M121.2 377.7h0M127.5 376.9h0M119.5 376.7h0M122.7 368.6h0M131.0 349.4h0M132.0 361.5h0M124.2 367.5h0M123.1 363.5h0M132.8 357.4h0M123.6 359.2h0M135.2 384.3h0M135.3 389.5h0M128.8 364.4h0M135.4 368.5h0M121.6 382.5h0M123.3 381.4h0M128.7 382.0h0M121.9 378.1h0M136.6 353.1h0M123.9 392.5h0M126.9 371.2h0M127.4 364.7h0M130.9 369.4h0M122.2 378.3h0M129.8 386.4h0M123.9 381.8h0M124.8 371.6h0M131.1 391.5h0M124.5 368.3h0M130.8 386.2h0M130.0 369.2h0M134.5 357.3h0M128.8 344.2h0M125.0 377.6h0M122.6 384.3h0M124.8 396.5h0M124.4 366.6h0M131.9 376.6h0M134.7 380.6h0M124.1 396.5h0M119.7 382.4h0M135.2 365.4h0M128.3 375.1h0M125.2 376.0h0M121.3 394.6h0M124.4 355.8h0M134.8 375.6h0M119.9 374.8h0M131.1 367.6h0M121.0 367.5h0M123.6 365.6h0M122.2 390.8h0M125.4 362.5h0M131.0 376.8h0M130.7 359.1h0M130.0 355.3h0M118.7 380.5h0M126.3 396.5h0M129.4 365.0h0M122.0 365.3h0M130.3 368.2h0M128.6 353.0h0M121.8 370.1h0M122.2 366.1h0M125.9 371.3h0M136.6 373.2h0M134.6 361.7h0M133.9 374.2h0M131.3 362.6h0M120.8 368.7h0M124.1 372.5h0M133.8 381.2h0M113.6 394.0h0M121.9 380.2h0M125.1 365.0h0M136.9 368.2h0M128.1 381.3h0M128.9 355.1h0M134.1 396.6h0M131.0 352.2h0M130.6 390.8h0M122.9 364.7h0M127.8 382.3h0M125.1 368.3h0M129.6 390.5h0M139.0 389.7h0M128.2 362.9h0M122.5 374.7h0M123.4 379.3h0M126.7 370.1h0M120.8 369.0h0M124.9 373.1h0M132.4 393.6h0M126.7 385.4h0M118.4 393.1h0M128.5 376.5h0M119.0 376.8h0M126.0 366.9h0M140.1 377.2h0M134.5 376.4h0M125.9 376.3h0M120.7 388.0h0M132.7 376.4h0M121.5 380.9h0M129.5 370.6h0M121.7 384.9h0M133.8 362.4h0M118.5 377.3h0M128.3 366.7h0M131.8 382.5h0M135.6 355.3h0M124.9 366.3h0M119.8 374.0h0M126.3 355.3h0M131.4 361.9h0M122.6 374.9h0M122.7 369.3h0M125.1 378.5h0M136.2 373.3h0M135.6 357.5h0M121.7 367.1h0M133.7 376.3h0M125.6 379.1h0M125.4 376.5h0M125.6 359.6h0M134.4 370.4h0M126.4 361.4h0M123.1 385.3h0M132.5 383.8h0M131.3 384.1h0M137.3 385.1h0M130.7 353.4h0M119.5 394.1h0M129.9 363.3h0M124.6 375.9h0M122.5 375.7h0M137.1 352.8h0M122.6 381.0h0M127.7 358.8h0M129.9 386.7h0M126.1 370.3h0M134.7 357.2h0M128.5 356.9h0M122.1 367.2h0M131.2 383.5h0M120.3 394.0h0M126.1 372.8h0M122.8 365.9h0M125.6 375.4h0M130.3 350.2h0M122.0 383.8h0M120.9 370.9h0M128.9 382.8h0M131.7 384.9h0M130.6 366.8h0M128.1 345.2h0M123.2 374.2h0M128.2 361.3h0M134.2 371.5h0M124.3 369.8h0M128.8 370.0h0M122.3 381.2h0M126.8 372.3h0M133.4 388.2h0M118.3 385.8h0M129.0 397.4h0M134.8 379.5h0M124.5 387.6h0M120.7 381.2h0M118.2 376.3h0M130.9 367.7h0M125.2 362.6h0M122.8 366.4h0M139.2 370.9h0M119.6 376.7h0M126.3 367.9h0M123.1 361.5h0M123.7 388.4h0M130.9 376.6h0M133.2 380.3h0M128.8 368.2h0M132.3 365.9h0M129.5 378.3h0M124.9 369.3h0M127.8 363.3h0M123.6 380.9h0M121.2 367.0h0M122.2 379.0h0M122.7 375.2h0M130.2 396.8h0M122.9 366.2h0M128.3 357.2h0M132.1 385.2h0M129.3 376.3h0M120.8 382.8h0M122.3 382.7h0M131.8 367.4h0M134.4 367.0h0M120.6 377.9h0M123.9 371.6h0M133.0 379.7h0M127.4 372.4h0M116.5 385.8h0M123.5 367.0h0M127.2 366.1h0M125.3 377.7h0M127.9 384.6h0M120.0 379.0h0M124.7 382.1h0M122.1 393.5h0M126.0 383.1h0M125.6 370.8h0M126.0 384.3h0M130.0 372.7h0M125.1 377.7h0M128.7 370.9h0M132.7 366.4h0M120.8 374.9h0M131.2 376.7h0M127.6 365.5h0M125.9 369.4h0M125.9 381.6h0M133.2 373.8h0M120.8 381.1h0M127.4 385.8h0M133.9 358.9h0M134.2 364.6h0M133.4 365.9h0M134.3 378.3h0M125.9 362.3h0M124.4 358.3h0M125.6 363.4h0M125.6 390.7h0M126.9 355.6h0M132.7 350.5h0M128.8 379.6h0M125.1 396.3h0M123.7 360.7h0M130.6 355.4h0M118.7 380.3h0M128.6 346.0h0M127.9 378.3h0M124.5 369.3h0M139.5 349.4h0M140.4 370.4h0M131.7 354.9h0M128.5 367.6h0M123.8 377.3h0M126.8 372.5h0M124.3 375.5h0M119.9 372.4h0M122.0 369.5h0M146.3 367.1h0M130.9 361.8h0M129.9 361.7h0M129.6 354.3h0M131.9 355.0h0M121.6 372.1h0M130.7 378.0h0M133.4 386.2h0M124.4 364.1h0M124.8 367.2h0M133.0 367.9h0M124.3 370.7h0M121.1 389.6h0M132.8 386.8h0M121.7 368.2h0M125.7 372.1h0M121.3 365.4h0M126.1 366.0h0M131.8 391.1h0M126.9 374.4h0M122.9 382.9h0M119.6 385.1h0M136.6 372.0h0M130.1 384.5h0M126.0 353.9h0M124.7 384.8h0M123.4 384.7h0M122.3 382.4h0M119.0 383.9h0M126.6 354.5h0M125.7 365.0h0M132.7 379.1h0M127.0 380.9h0M131.1 350.8h0M131.9 396.4h0M126.4 375.0h0M126.5 378.2h0M128.0 364.0h0M130.2 364.8h0M127.8 387.0h0M122.1 370.5h0M122.4 385.5h0M125.2 379.5h0M122.2 383.4h0M119.9 373.3h0M124.0 370.4h0M127.8 356.0h0M129.1 369.2h0M123.9 382.3h0M122.7 363.5h0M126.5 377.0h0M115.9 391.5h0M127.2 359.1h0M127.6 389.5h0M123.5 369.3h0M123.6 382.7h0M127.4 383.3h0M129.1 376.0h0M135.9 375.8h0M123.7 367.7h0M125.3 384.8h0M134.6 384.8h0M134.3 369.3h0M128.9 383.5h0M119.5 390.8h0M123.4 369.9h0M121.2 387.0h0M126.4 394.2h0M128.6 365.9h0M136.4 360.9h0M127.4 368.8h0M125.2 388.9h0M135.0 365.4h0M123.1 386.6h0M135.1 365.4h0M137.9 372.4h0M127.7 377.4h0M145.9 370.6h0M124.2 362.1h0M122.9 362.9h0M130.6 384.9h0M130.7 368.6h0M133.4 389.5h0M128.4 380.0h0M125.7 368.0h0M118.4 375.0h0M119.2 378.3h0M126.5 380.3h0M132.8 380.1h0M130.8 368.5h0M119.3 376.7h0M128.0 388.6h0M132.0 367.2h0M123.6 375.3h0M126.8 375.9h0M121.4 376.8h0M132.9 379.9h0M127.6 386.6h0M120.2 389.4h0M123.7 363.5h0M127.1 378.3h0M129.1 376.5h0M127.5 368.7h0M123.4 379.0h0M135.1 365.1h0M137.9 365.7h0M123.6 363.0h0M119.7 377.7h0M121.2 374.9h0M130.3 378.2h0M127.2 378.4h0M123.6 370.0h0M126.5 356.0h0M131.5 364.0h0M124.0 385.8h0M123.5 377.9h0M126.7 377.9h0M145.7 392.2h0M132.9 378.0h0M123.4 360.5h0M125.0 387.3h0M127.8 374.6h0M117.9 381.4h0M128.3 368.3h0M127.8 379.8h0M126.6 373.6h0M123.8 375.6h0M130.3 351.5h0M124.2 367.4h0M122.1 374.2h0M118.6 380.3h0M133.2 368.8h0M133.3 361.3h0M131.2 359.5h0M122.8 378.7h0M133.1 345.0h0M130.6 382.7h0M126.8 367.4h0M127.5 376.6h0M130.8 362.3h0M129.5 358.3h0M127.3 359.6h0M126.1 365.6h0M141.7 369.1h0M126.5 350.6h0M128.1 363.7h0M131.9 369.6h0M119.2 373.3h0M127.3 375.6h0M120.5 376.6h0M124.4 376.6h0M125.3 354.5h0M127.0 372.5h0M117.1 385.6h0M127.5 383.0h0M127.9 385.5h0M125.9 373.0h0M131.7 377.0h0M122.5 369.0h0M123.3 378.8h0M122.8 366.2h0M126.6 363.4h0M137.4 372.5h0M125.1 390.6h0M128.1 354.8h0M132.0 390.9h0M134.3 360.8h0M122.6 365.8h0M135.2 376.2h0M124.9 379.1h0M134.6 384.2h0M131.2 392.4h0M118.7 379.6h0M130.6 392.4h0M129.1 380.0h0M133.4 376.0h0M128.3 374.2h0M137.1 376.6h0M125.5 363.5h0M120.0 369.6h0M120.6 390.9h0M127.9 391.1h0M137.2 380.8h0M122.5 369.0h0M117.3 392.3h0M131.4 391.9h0M133.1 371.7h0M128.4 371.5h0M127.8 384.6h0M118.9 380.9h0M122.5 364.4h0M120.7 379.5h0M129.7 366.7h0M122.7 385.5h0M118.3 392.1h0M132.7 358.5h0M137.6 365.9h0M127.2 362.6h0M131.4 375.3h0M113.6 389.7h0M133.0 376.3h0M129.5 372.7h0M127.0 378.9h0M124.8 372.2h0M132.6 344.2h0M125.0 360.0h0M132.2 362.3h0M130.5 384.0h0M133.1 384.0h0M133.7 363.8h0M120.4 381.4h0M131.9 380.5h0M137.4 363.5h0M121.4 387.3h0M133.8 385.4h0M125.0 375.6h0M123.3 365.8h0M139.1 380.1h0M130.7 358.5h0M123.1 374.0h0M121.4 380.3h0M125.5 382.9h0M118.0 375.8h0M135.0 374.7h0M128.6 390.5h0M122.3 391.4h0M124.3 364.5h0M126.8 383.7h0M130.4 360.0h0M128.0 377.5h0M124.7 380.0h0M124.1 368.1h0M142.5 379.0h0M127.3 361.8h0M129.4 375.1h0M129.2 365.7h0M130.4 374.4h0M129.4 344.8h0M117.1 389.2h0M123.4 365.2h0M125.4 386.7h0M125.1 382.5h0M119.3 374.1h0M121.3 379.5h0M125.3 375.8h0M129.2 387.0h0M124.5 362.4h0M133.0 365.1h0M125.2 391.7h0M129.6 364.9h0M117.8 387.0h0M126.1 385.0h0M135.7 379.9h0M127.2 383.4h0M130.6 347.9h0M117.7 396.6h0M129.3 363.3h0M131.6 366.7h0M120.5 386.9h0M128.2 396.2h0M131.1 356.3h0M125.2 387.4h0M137.0 388.7h0M124.4 396.2h0M116.5 393.6h0M132.4 357.2h0M122.2 389.2h0M124.6 367.3h0M114.6 386.8h0M124.3 363.2h0M125.5 366.4h0M127.1 383.7h0M124.2 376.9h0M128.3 381.9h0M134.9 371.7h0M128.6 364.1h0M132.1 367.0h0M137.7 366.1h0M128.8 366.2h0M120.6 380.7h0M127.5 349.5h0M128.4 348.1h0M128.1 387.1h0M136.9 367.8h0M133.2 369.4h0M122.8 369.9h0M117.3 387.3h0M118.9 378.8h0M137.6 372.7h0M131.1 374.9h0M127.7 372.5h0M121.3 371.1h0M123.0 385.9h0M122.5 365.0h0M128.9 352.2h0M128.5 352.9h0M126.8 362.5h0M136.4 375.7h0M139.9 381.4h0M123.1 392.5h0M129.4 368.7h0M138.9 370.0h0M123.3 390.2h0M124.4 360.0h0M130.1 356.4h0M131.0 372.7h0M129.2 369.9h0M127.6 385.6h0M127.7 368.4h0M131.9 353.6h0M135.6 384.3h0M127.3 367.6h0M117.3 378.1h0M126.3 362.5h0M140.2 368.3h0M132.4 373.8h0M124.2 384.8h0M130.1 395.2h0M136.8 396.8h0M138.2 383.9h0M135.3 397.1h0M142.4 381.2h0M133.8 397.4h0M143.1 389.4h0M142.0 393.9h0M124.9 382.0h0M125.3 396.6h0M137.5 390.2h0M142.1 392.1h0M144.0 389.2h0M139.5 392.9h0M126.4 394.2h0M128.3 385.1h0M133.4 396.6h0M135.6 394.5h0M128.5 396.1h0M130.5 382.7h0M136.7 382.2h0M133.0 386.5h0M146.3 379.4h0M133.8 395.8h0M137.6 365.8h0M137.0 387.2h0M139.3 378.2h0M127.8 384.6h0M139.2 396.9h0M149.4 395.1h0M138.3 397.3h0M137.0 372.7h0M138.1 382.0h0M145.7 391.4h0M141.1 393.9h0M136.8 396.4h0M136.2 393.0h0M147.6 395.2h0M141.3 379.7h0M140.7 386.8h0M146.4 386.2h0M148.9 382.4h0M150.6 397.8h0M122.9 391.1h0M125.6 397.9h0M124.9 387.1h0M138.2 396.4h0M130.0 395.5h0M135.3 397.3h0M135.9 395.7h0M142.6 380.5h0M132.3 396.6h0M133.0 392.0h0M132.7 395.8h0M145.3 396.1h0M134.0 394.2h0M134.2 376.8h0M138.0 394.0h0M131.7 391.2h0M136.3 391.9h0M119.7 379.2h0M136.1 396.8h0M139.3 395.6h0M132.4 384.2h0M127.8 396.6h0M127.4 389.8h0M126.1 378.4h0M134.5 378.6h0M148.2 387.2h0M135.6 395.4h0M129.9 378.7h0M122.0 388.6h0M143.7 374.3h0M125.0 391.9h0M135.9 388.8h0M132.1 390.2h0M142.7 391.4h0M146.8 396.2h0M147.6 390.4h0M148.5 367.9h0M136.1 389.3h0M136.0 386.8h0M141.4 397.1h0M148.8 381.9h0M129.9 381.5h0M138.5 375.3h0M138.6 385.1h0M147.1 385.5h0M131.9 383.9h0M129.7 388.0h0M140.3 396.7h0M125.3 395.0h0M118.8 391.9h0M122.1 384.7h0M128.8 371.3h0M140.4 394.0h0M132.2 374.8h0M141.8 397.4h0M131.2 365.6h0M139.6 387.5h0M131.6 382.6h0M135.7 379.7h0M136.1 389.6h0M147.3 395.2h0M137.5 389.9h0M146.5 394.6h0M126.8 389.4h0M126.6 388.3h0M135.1 394.3h0M137.2 397.3h0M133.3 393.4h0M142.6 389.7h0M147.2 394.9h0M134.1 379.5h0M137.5 393.6h0M133.5 387.4h0M133.0 387.0h0M135.5 393.2h0M142.3 393.9h0M136.9 395.7h0M138.6 391.2h0M144.3 382.4h0M133.1 390.3h0M140.9 397.7h0M139.6 394.5h0M130.6 385.8h0M133.5 392.2h0M138.1 394.2h0M143.3 396.9h0M130.4 386.4h0M136.5 394.1h0M150.6 396.1h0M149.2 377.5h0M128.1 384.8h0M144.5 383.3h0M135.9 387.6h0M132.4 397.3h0M136.1 378.5h0M134.4 387.6h0M136.5 390.3h0M137.8 390.8h0M130.7 391.1h0M130.7 388.5h0M137.7 395.5h0M128.6 380.2h0M136.2 395.4h0M132.6 396.0h0M124.5 393.8h0M139.1 395.0h0M131.4 397.2h0M137.0 386.3h0M138.1 395.3h0M130.6 388.6h0M144.8 392.7h0M140.8 394.7h0M135.6 384.0h0M149.2 377.6h0M138.3 394.0h0M144.6 393.5h0M136.3 391.4h0M139.4 392.4h0M141.1 393.8h0M143.4 392.5h0M135.7 393.8h0M129.7 395.3h0M139.1 382.5h0M133.6 393.8h0M144.6 396.8h0M136.5 396.6h0M130.8 387.3h0M144.4 396.2h0M135.4 384.5h0M136.9 385.2h0M127.4 388.3h0M144.3 382.4h0M147.6 392.0h0M140.5 389.9h0M139.9 394.1h0M137.5 383.4h0M138.5 395.5h0M136.4 395.2h0M132.2 395.8h0M140.5 381.0h0M120.6 385.1h0M126.8 388.5h0M154.2 396.0h0M136.9 385.6h0M117.8 396.1h0M112.8 396.4h0M132.2 392.8h0M138.5 391.7h0M144.3 398.1h0M138.8 370.4h0M132.7 388.0h0M129.8 384.5h0M143.2 396.6h0M143.4 380.5h0M146.3 398.1h0M135.6 386.0h0M125.1 391.5h0M139.6 391.9h0M149.8 378.9h0M138.4 393.3h0M126.2 396.1h0M137.9 395.6h0M136.4 391.5h0M128.9 391.9h0M122.8 385.6h0M128.2 379.6h0M141.7 395.8h0M143.2 394.1h0M151.8 390.3h0M137.1 396.8h0M134.5 389.3h0M150.8 393.5h0M127.9 391.6h0M143.9 381.9h0M130.9 387.3h0M140.2 392.6h0M130.6 385.9h0M141.1 375.8h0M140.8 396.4h0M150.2 387.3h0M131.7 395.1h0M133.9 390.2h0M136.6 387.6h0M124.8 395.6h0M147.0 390.0h0M130.0 389.4h0M129.7 380.7h0M144.5 397.3h0M130.8 382.6h0M133.2 392.6h0M148.7 393.1h0M136.9 386.5h0M140.9 396.1h0M119.9 382.9h0M140.4 393.4h0M135.3 387.8h0M129.4 382.0h0M139.7 392.5h0M137.3 389.7h0M140.0 396.8h0M129.5 391.7h0M144.8 391.3h0M145.2 393.0h0M128.8 384.6h0M131.7 395.5h0M134.6 397.9h0M134.0 392.3h0M122.9 377.5h0M137.5 377.3h0M129.3 385.9h0M130.5 370.6h0M140.2 380.4h0M134.2 390.1h0M140.4 384.7h0M145.0 379.9h0M131.8 394.2h0M145.2 396.8h0M135.1 389.4h0M136.7 397.6h0M141.4 383.1h0M141.4 397.9h0M134.9 380.8h0M137.5 397.9h0M149.2 381.2h0M140.2 396.9h0M131.3 386.6h0M132.7 387.8h0M130.3 397.0h0M139.0 396.5h0M137.7 394.0h0M127.8 386.2h0M134.9 378.7h0M135.1 388.1h0M131.2 397.7h0M144.7 392.0h0M140.1 396.1h0M133.4 387.9h0M134.9 390.3h0M139.9 379.2h0M144.3 389.9h0M140.2 382.0h0M140.4 379.7h0M136.4 393.3h0M131.0 386.0h0M139.2 392.6h0M132.9 395.5h0M132.3 392.0h0M135.6 386.6h0M124.2 394.4h0M147.8 394.7h0M137.1 389.1h0M128.7 385.1h0M123.9 382.5h0M137.8 389.0h0M133.0 390.8h0M139.0 391.5h0M137.9 377.7h0M132.0 370.9h0M137.8 389.0h0M131.2 382.0h0M145.7 392.9h0M138.0 396.2h0M131.7 397.6h0M150.0 388.7h0M131.2 396.4h0M142.5 389.2h0M128.9 396.7h0M134.1 384.9h0M136.6 393.0h0M142.7 393.5h0M130.3 397.2h0M133.4 391.3h0M132.5 386.7h0M133.0 379.8h0M130.4 389.5h0M151.7 386.8h0M133.4 394.6h0M125.7 393.8h0M135.6 395.1h0M152.3 395.3h0M141.8 389.2h0M131.4 391.8h0M147.4 390.4h0M137.0 386.4h0M142.4 392.5h0M152.0 382.3h0M141.9 395.2h0M136.5 392.2h0M138.3 395.5h0M140.8 386.5h0M138.3 392.3h0M141.9 381.5h0M129.9 393.6h0M140.0 392.4h0M139.7 397.1h0M135.3 380.1h0M148.6 383.1h0M117.5 393.4h0M131.1 392.6h0M124.4 394.3h0M135.6 392.3h0M142.6 372.1h0M146.8 385.5h0M133.0 391.1h0M135.7 385.7h0M140.2 397.7h0M140.0 390.4h0M141.8 382.0h0M133.4 392.2h0M123.9 388.1h0M142.4 387.2h0M148.7 396.9h0M123.4 383.5h0M142.4 395.2h0M144.0 381.5h0M135.3 387.7h0M131.1 390.8h0M133.4 394.4h0M138.4 374.2h0M127.0 389.8h0M145.6 386.1h0M136.6 373.4h0M143.7 366.4h0M134.3 379.8h0M138.2 390.3h0M131.9 389.2h0M138.1 393.1h0M129.4 395.7h0M139.0 389.0h0M144.1 380.4h0M139.0 393.9h0M147.5 391.2h0M131.2 383.8h0M150.5 391.5h0M128.1 394.5h0M129.0 381.8h0M139.0 376.3h0M137.5 388.3h0M136.0 393.0h0M135.2 395.9h0M137.6 390.5h0M138.5 396.3h0M135.7 390.8h0M128.6 395.5h0M142.0 372.3h0M132.1 383.6h0M142.7 390.5h0M145.9 387.6h0M130.2 377.4h0M132.8 395.8h0M124.0 387.3h0M127.4 396.6h0M122.6 386.7h0M133.4 391.6h0M131.4 390.1h0M147.2 393.7h0M147.8 380.9h0M145.8 394.9h0M125.1 390.9h0M133.0 396.0h0M122.3 395.1h0M137.7 388.1h0M138.1 380.2h0M137.7 390.8h0M153.4 375.1h0M129.3 393.7h0M131.7 373.5h0M137.9 389.2h0M130.2 382.4h0M139.6 385.3h0M124.9 398.1h0M147.7 376.5h0M145.6 398.1h0M137.3 391.4h0M144.0 390.7h0M136.9 376.0h0M125.0 379.0h0M136.4 395.8h0M120.0 397.7h0M151.1 382.1h0M118.6 396.4h0M132.1 395.8h0M126.8 383.5h0M127.0 391.2h0M135.7 389.3h0M128.1 391.8h0M132.8 397.1h0M142.8 397.7h0M133.4 380.2h0M136.5 389.7h0M131.4 397.4h0M123.0 383.7h0M139.0 384.2h0M133.7 380.1h0M133.2 381.3h0M134.0 377.3h0M138.2 396.5h0M143.6 394.0h0M138.4 395.9h0M139.3 382.3h0M141.2 388.6h0M129.4 382.0h0M136.2 390.8h0M140.1 388.5h0M131.3 391.8h0M138.8 391.5h0M140.2 394.4h0M132.4 386.2h0M135.8 333.6h0M129.1 344.7h0M130.2 349.8h0M134.1 342.0h0M128.3 376.0h0M130.8 357.2h0M139.9 326.5h0M132.4 346.7h0M138.7 361.8h0M138.3 351.9h0M131.6 375.3h0M136.5 337.0h0M139.3 363.2h0M125.4 355.8h0M127.2 349.8h0M134.2 340.7h0M141.6 359.0h0M138.2 344.3h0M140.7 353.5h0M134.0 355.2h0M128.3 348.4h0M137.9 330.6h0M136.9 345.0h0M143.1 338.2h0M135.6 339.2h0M137.4 342.8h0M132.0 365.1h0M145.3 361.6h0M144.6 331.5h0M129.4 342.9h0M132.9 369.8h0M131.0 342.6h0M140.0 360.5h0M135.0 345.1h0M133.9 344.3h0M130.8 362.4h0M135.7 341.5h0M136.5 331.2h0M125.6 374.1h0M132.9 337.4h0M152.2 352.3h0M132.0 353.3h0M134.5 339.9h0M139.9 340.8h0M132.3 348.9h0M127.2 352.1h0M139.0 357.1h0M144.1 354.4h0M139.6 353.9h0M135.3 340.3h0M141.2 389.9h0M158.8 397.7h0M149.6 388.7h0M158.7 397.6h0M140.3 392.0h0M139.2 392.6h0M135.2 387.1h0M161.3 393.0h0M144.1 393.5h0M144.6 393.7h0M156.8 390.0h0M150.6 383.7h0M157.1 397.4h0M143.8 385.9h0M147.4 387.1h0M154.4 384.8h0M143.2 397.6h0M150.2 396.5h0M157.1 392.4h0M154.0 387.2h0M136.3 390.3h0M142.6 393.7h0M150.3 396.7h0M148.5 394.4h0M147.5 394.2h0M152.5 391.8h0M147.3 392.0h0M146.9 386.6h0M153.7 392.7h0M147.3 392.6h0M145.3 392.8h0M138.7 385.0h0M167.7 388.3h0M141.0 393.5h0M151.6 385.5h0M136.5 393.8h0M136.1 386.7h0M145.0 397.4h0M148.0 393.6h0M147.1 395.7h0M155.5 397.4h0M147.8 393.9h0M144.2 392.2h0M148.1 383.4h0M154.7 396.2h0M158.0 390.0h0M149.2 396.8h0M141.4 396.1h0M146.1 385.4h0M140.3 382.6h0M149.3 394.1h0M149.2 394.4h0M150.8 389.4h0M146.1 394.0h0M154.2 394.2h0M149.0 392.2h0M151.6 395.1h0M154.9 392.0h0M158.1 395.6h0M143.0 390.9h0M152.0 391.3h0M158.8 387.8h0M151.1 386.7h0M147.9 392.3h0M137.1 394.7h0M161.2 393.8h0M152.9 387.8h0M142.2 395.4h0M149.6 394.3h0M141.1 396.4h0M147.4 390.5h0M138.4 393.6h0M145.0 395.6h0M152.3 393.1h0M164.4 392.4h0M153.0 389.9h0M153.8 396.5h0M143.0 396.1h0M152.0 397.1h0M151.5 393.5h0M142.7 390.6h0M156.6 394.2h0M138.5 383.2h0M143.0 390.6h0M153.8 389.0h0M142.8 389.7h0M143.1 378.0h0M148.6 376.6h0M148.8 397.7h0M144.2 396.3h0M158.3 397.9h0M170.1 396.8h0M164.6 396.2h0M175.7 396.7h0M165.7 398.1h0M141.8 397.2h0M174.9 397.5h0M160.5 398.1h0M155.0 396.3h0M161.2 396.5h0M140.5 397.7h0M146.5 396.4h0M143.7 396.2h0M149.6 396.3h0M158.6 397.5h0M174.8 397.3h0M165.1 398.0h0M169.9 396.1h0M144.0 396.6h0M149.7 397.8h0M153.1 396.8h0M174.3 396.1h0M175.8 396.9h0M163.5 397.8h0M166.1 397.0h0M152.9 396.3h0M149.2 397.8h0M145.7 397.8h0M161.2 396.5h0M145.8 397.1h0M160.7 397.0h0M154.9 397.0h0M140.5 398.0h0M155.2 397.6h0M167.2 397.6h0M169.7 397.6h0M143.3 397.1h0M154.0 397.4h0M167.5 397.7h0M164.1 396.4h0M125.5 387.8h0M113.8 390.9h0M124.6 383.6h0M127.4 397.0h0M120.8 383.9h0M124.7 380.6h0M116.0 390.4h0M121.7 379.2h0M134.8 392.3h0M127.3 380.6h0M132.4 386.3h0M118.1 385.5h0M133.0 398.3h0M121.7 382.7h0M123.8 391.7h0M124.8 380.3h0M126.6 381.2h0M132.4 387.6h0M126.2 380.0h0M126.5 379.7h0M132.9 391.9h0M129.5 397.9h0M129.7 392.5h0M122.1 391.9h0M122.7 392.2h0M119.9 397.9h0M113.9 392.5h0M116.0 395.7h0M123.2 391.4h0M122.3 395.7h0M117.3 388.1h0M126.5 384.2h0M123.0 387.9h0M129.8 381.8h0M119.9 387.8h0M127.1 386.0h0M128.0 382.9h0M135.6 392.1h0M119.0 396.8h0M127.3 385.0h0M120.3 385.6h0M133.7 394.5h0M126.4 392.6h0M117.8 386.7h0M122.5 383.6h0M122.5 393.2h0M118.5 393.8h0M131.9 391.5h0M131.3 391.8h0M122.5 377.7h0M132.4 397.7h0M121.8 379.3h0M136.5 392.8h0M126.6 384.9h0M119.6 387.4h0M133.8 396.2h0M138.2 395.6h0M125.1 386.0h0M121.0 397.8h0M120.0 396.7h0M138.3 396.1h0M124.7 381.1h0M114.8 396.3h0M125.1 385.5h0M130.0 382.5h0M122.9 393.3h0M121.7 391.5h0M130.6 383.3h0M117.4 395.3h0M129.8 389.3h0M121.4 390.8h0M130.3 387.9h0M121.0 385.9h0M122.6 396.3h0M114.7 398.1h0M118.7 395.3h0M118.8 389.6h0M123.1 377.8h0M136.5 394.3h0M119.6 393.6h0M126.3 398.1h0M118.3 390.4h0M135.9 395.0h0M128.5 385.3h0M119.3 393.1h0M125.1 398.3h0M122.8 386.3h0M127.2 383.2h0M133.5 388.0h0M127.3 387.6h0M122.9 395.4h0M117.7 395.8h0M122.4 384.2h0M130.7 389.1h0M114.7 391.0h0M128.0 384.0h0M121.5 395.1h0M121.8 385.9h0M123.9 380.5h0M132.2 391.2h0M125.3 385.7h0M118.4 393.9h0M125.6 394.8h0M123.0 392.7h0M132.6 387.6h0M126.1 381.2h0M116.5 390.8h0M127.3 383.7h0M128.6 379.9h0M126.5 390.2h0M132.7 388.7h0M130.7 393.7h0M129.3 381.8h0M125.2 394.8h0M129.1 393.1h0M122.6 386.6h0M140.9 397.8h0M125.1 394.8h0M133.0 388.4h0M119.9 396.7h0M140.0 395.6h0M113.9 396.8h0M128.7 390.1h0M133.4 386.9h0M117.3 397.5h0M120.0 392.9h0M133.2 385.5h0M118.2 381.6h0M127.3 387.7h0M134.8 395.7h0M122.4 381.5h0M122.1 392.7h0M132.1 385.7h0M127.8 380.3h0M127.2 393.8h0M117.3 392.5h0M122.3 394.4h0M131.3 387.3h0M123.1 389.4h0M118.0 386.4h0M119.1 394.8h0M128.7 389.9h0M138.6 393.8h0M132.7 394.4h0M125.0 391.4h0M127.3 380.2h0M118.1 395.5h0M123.4 380.2h0M116.9 389.4h0M117.1 387.2h0M128.2 386.4h0M127.1 394.9h0M111.5 396.9h0M128.2 381.7h0M129.3 390.9h0M122.9 387.3h0M128.6 392.7h0M114.2 395.0h0M126.7 382.4h0M120.6 386.9h0M122.9 393.9h0M121.5 379.3h0M133.3 393.7h0M124.2 396.9h0M123.6 383.7h0M113.3 397.3h0M127.4 386.4h0M125.0 393.4h0M116.7 385.7h0M132.1 389.0h0M125.8 389.3h0M118.8 388.9h0M122.8 395.8h0M131.1 390.5h0M133.8 392.6h0M117.5 390.8h0M132.0 391.1h0M121.4 389.8h0M121.8 379.7h0M128.5 394.3h0M114.7 392.6h0M113.2 397.0h0M122.8 380.8h0M123.6 387.7h0M124.3 379.6h0M127.7 383.4h0M124.9 381.9h0M131.7 394.8h0M123.6 393.2h0M119.9 379.3h0M125.1 393.3h0M119.8 380.3h0M127.6 386.1h0M141.0 396.2h0M118.6 389.0h0M124.3 377.7h0M125.2 396.6h0M120.7 389.5h0M120.6 392.3h0M115.1 387.1h0M127.6 379.9h0M119.1 382.2h0M130.1 395.5h0M133.2 389.6h0M126.9 381.0h0M125.0 383.0h0M129.7 383.4h0M119.8 390.7h0M113.7 394.1h0M126.9 381.9h0M127.1 392.4h0M123.0 385.8h0M119.2 394.4h0M130.6 381.4h0M113.5 395.5h0M125.8 392.3h0M114.1 391.1h0M131.8 391.7h0M124.6 385.0h0M133.3 392.8h0M131.8 385.6h0M129.2 388.0h0M117.0 397.3h0M134.8 392.3h0M121.0 384.9h0M136.6 395.0h0M129.2 381.5h0M121.8 379.2h0M116.0 392.3h0M118.2 395.1h0M121.5 395.2h0M120.7 382.7h0M124.9 385.1h0M114.2 392.2h0M129.6 387.8h0M118.9 383.1h0M115.0 395.2h0M136.9 391.9h0M128.6 394.4h0M115.9 388.6h0M119.5 385.5h0M117.1 392.2h0M129.3 393.7h0M131.1 389.8h0M129.1 384.0h0M133.6 396.9h0M131.7 391.2h0M125.3 386.9h0M114.5 390.3h0M132.9 396.1h0M126.8 384.2h0M141.4 398.3h0M125.3 394.0h0M124.2 397.4h0M124.2 395.2h0M118.6 383.5h0M126.7 385.5h0M131.7 387.8h0M121.3 390.0h0M124.5 394.9h0M133.3 397.7h0M123.3 382.6h0M128.4 385.0h0M126.7 385.7h0M114.3 392.7h0M114.7 389.8h0M138.9 398.1h0M119.8 396.7h0M137.4 396.2h0M118.9 389.3h0M123.1 383.3h0M135.4 390.2h0M121.6 388.6h0M125.7 388.8h0M134.3 397.7h0M130.9 387.2h0M131.3 388.4h0M133.6 397.3h0M131.7 394.1h0M118.6 385.2h0M118.2 392.1h0M127.9 390.0h0M121.4 389.6h0M127.5 385.3h0M122.1 394.2h0M116.6 389.0h0M135.8 397.0h0M126.8 397.0h0M116.2 395.0h0M123.7 388.7h0M121.5 380.3h0M133.4 389.4h0M114.9 394.2h0M127.2 380.1h0M137.3 394.6h0M117.9 397.1h0M135.5 393.5h0M131.3 394.8h0M137.7 396.7h0M121.0 391.6h0M146.2 297.5h0M145.2 298.8h0M142.7 312.5h0M142.0 319.2h0M128.3 310.4h0M137.2 323.3h0M133.6 327.0h0M139.9 331.7h0M131.0 334.0h0M128.5 340.5h0M135.5 336.0h0M138.5 343.5h0M134.0 349.0h0M141.0 351.0h0M124.5 352.0h0M127.0 346.0h0M130.0 355.0h0M136.0 357.0h0M123.0 358.0h0M126.0 361.0h0M132.0 362.0h0M139.0 360.0h0M121.5 365.0h0M129.0 366.0h0M134.0 368.0h0M138.0 366.0h0M143.0 372.0h0M146.0 376.0h0M150.0 380.0h0M148.0 386.0h0M153.0 384.0h0M156.0 389.0h0M160.0 392.0h0M158.0 383.0h0M180.2 397.4h0" stroke="#ee3a34" stroke-width="1.25" stroke-linecap="round" fill="none"/>
<path d="M51.0 399.0h0M52.3 398.5h0M53.6 398.7h0M54.9 399.0h0M57.5 398.9h0M58.8 398.4h0M62.7 398.4h0M64.0 398.9h0M65.3 399.0h0M66.6 398.4h0M67.9 399.0h0M69.2 398.4h0M71.8 398.8h0M73.1 398.5h0M74.4 399.0h0M75.7 398.7h0M77.0 398.6h0M78.3 398.9h0M82.2 398.9h0M83.5 398.6h0M84.8 398.5h0M87.4 398.6h0M88.7 399.0h0M90.0 398.7h0M91.3 399.0h0M93.9 398.8h0M96.5 398.5h0M97.8 398.7h0M100.4 398.6h0M103.0 398.6h0M106.9 398.4h0M108.2 398.9h0M110.8 398.5h0M112.1 398.5h0M113.4 398.7h0M118.6 399.1h0M119.9 399.0h0M121.2 399.0h0M122.5 399.1h0M123.8 399.0h0M126.4 399.0h0M127.7 398.9h0M129.0 398.6h0M130.3 398.9h0M132.9 399.1h0M134.2 398.6h0M135.5 398.8h0M139.4 398.6h0M140.7 398.4h0M142.0 398.8h0M143.3 399.1h0M144.6 398.6h0M145.9 398.4h0M148.5 398.7h0M149.8 398.5h0M151.1 398.7h0M152.4 399.1h0M153.7 398.5h0M155.0 398.4h0M156.3 398.9h0M158.9 398.9h0M160.2 398.7h0M161.5 398.3h0M162.8 398.8h0M164.1 398.6h0M168.0 398.4h0M169.3 398.8h0M170.6 398.3h0M171.9 398.3h0M174.5 398.5h0M175.8 398.5h0M177.1 398.4h0M179.7 398.9h0M181.0 398.9h0" stroke="#666" stroke-width="1.0" stroke-linecap="round" fill="none"/>
<line x1="49.60" y1="296.20" x2="49.60" y2="401.20" stroke="#222" stroke-width="1.2"/>
<line x1="49.00" y1="400.50" x2="182.70" y2="400.50" stroke="#222" stroke-width="1.3"/>
<line x1="46.60" y1="398.10" x2="49.60" y2="398.10" stroke="#222" stroke-width="0.9"/>
<text x="43.75" y="400.60" font-size="7.1" stroke="#222" stroke-width="0.12" text-anchor="end" fill="#222" textLength="4.20" lengthAdjust="spacingAndGlyphs">0</text>
<line x1="46.60" y1="390.24" x2="49.60" y2="390.24" stroke="#222" stroke-width="0.9"/>
<text x="43.75" y="392.74" font-size="7.1" stroke="#222" stroke-width="0.12" text-anchor="end" fill="#222" textLength="8.40" lengthAdjust="spacingAndGlyphs">20</text>
<line x1="46.60" y1="382.38" x2="49.60" y2="382.38" stroke="#222" stroke-width="0.9"/>
<text x="43.75" y="384.88" font-size="7.1" stroke="#222" stroke-width="0.12" text-anchor="end" fill="#222" textLength="8.40" lengthAdjust="spacingAndGlyphs">40</text>
<line x1="46.60" y1="374.52" x2="49.60" y2="374.52" stroke="#222" stroke-width="0.9"/>
<text x="43.75" y="377.02" font-size="7.1" stroke="#222" stroke-width="0.12" text-anchor="end" fill="#222" textLength="8.40" lengthAdjust="spacingAndGlyphs">60</text>
<line x1="46.60" y1="366.66" x2="49.60" y2="366.66" stroke="#222" stroke-width="0.9"/>
<text x="43.75" y="369.16" font-size="7.1" stroke="#222" stroke-width="0.12" text-anchor="end" fill="#222" textLength="8.40" lengthAdjust="spacingAndGlyphs">80</text>
<line x1="46.60" y1="358.80" x2="49.60" y2="358.80" stroke="#222" stroke-width="0.9"/>
<text x="43.75" y="361.30" font-size="7.1" stroke="#222" stroke-width="0.12" text-anchor="end" fill="#222" textLength="12.60" lengthAdjust="spacingAndGlyphs">100</text>
<line x1="46.60" y1="350.94" x2="49.60" y2="350.94" stroke="#222" stroke-width="0.9"/>
<text x="43.75" y="353.44" font-size="7.1" stroke="#222" stroke-width="0.12" text-anchor="end" fill="#222" textLength="12.60" lengthAdjust="spacingAndGlyphs">120</text>
<line x1="46.60" y1="343.08" x2="49.60" y2="343.08" stroke="#222" stroke-width="0.9"/>
<text x="43.75" y="345.58" font-size="7.1" stroke="#222" stroke-width="0.12" text-anchor="end" fill="#222" textLength="12.60" lengthAdjust="spacingAndGlyphs">140</text>
<line x1="46.60" y1="335.22" x2="49.60" y2="335.22" stroke="#222" stroke-width="0.9"/>
<text x="43.75" y="337.72" font-size="7.1" stroke="#222" stroke-width="0.12" text-anchor="end" fill="#222" textLength="12.60" lengthAdjust="spacingAndGlyphs">160</text>
<line x1="46.60" y1="327.36" x2="49.60" y2="327.36" stroke="#222" stroke-width="0.9"/>
<text x="43.75" y="329.86" font-size="7.1" stroke="#222" stroke-width="0.12" text-anchor="end" fill="#222" textLength="12.60" lengthAdjust="spacingAndGlyphs">180</text>
<line x1="46.60" y1="319.50" x2="49.60" y2="319.50" stroke="#222" stroke-width="0.9"/>
<text x="43.75" y="322.00" font-size="7.1" stroke="#222" stroke-width="0.12" text-anchor="end" fill="#222" textLength="12.60" lengthAdjust="spacingAndGlyphs">200</text>
<line x1="46.60" y1="311.64" x2="49.60" y2="311.64" stroke="#222" stroke-width="0.9"/>
<text x="43.75" y="314.14" font-size="7.1" stroke="#222" stroke-width="0.12" text-anchor="end" fill="#222" textLength="12.60" lengthAdjust="spacingAndGlyphs">220</text>
<line x1="46.60" y1="303.78" x2="49.60" y2="303.78" stroke="#222" stroke-width="0.9"/>
<text x="43.75" y="306.28" font-size="7.1" stroke="#222" stroke-width="0.12" text-anchor="end" fill="#222" textLength="12.60" lengthAdjust="spacingAndGlyphs">240</text>
<line x1="60.15" y1="400.40" x2="60.15" y2="403.00" stroke="#222" stroke-width="0.8"/>
<text x="58.85" y="413.20" font-size="7.6" stroke="#222" stroke-width="0.12" text-anchor="middle" fill="#222" textLength="8.80" lengthAdjust="spacingAndGlyphs">−4</text>
<line x1="72.60" y1="400.40" x2="72.60" y2="403.00" stroke="#222" stroke-width="0.8"/>
<text x="71.30" y="413.20" font-size="7.6" stroke="#222" stroke-width="0.12" text-anchor="middle" fill="#222" textLength="8.80" lengthAdjust="spacingAndGlyphs">−3</text>
<line x1="85.05" y1="400.40" x2="85.05" y2="403.00" stroke="#222" stroke-width="0.8"/>
<text x="83.75" y="413.20" font-size="7.6" stroke="#222" stroke-width="0.12" text-anchor="middle" fill="#222" textLength="8.80" lengthAdjust="spacingAndGlyphs">−2</text>
<line x1="97.50" y1="400.40" x2="97.50" y2="403.00" stroke="#222" stroke-width="0.8"/>
<text x="96.20" y="413.20" font-size="7.6" stroke="#222" stroke-width="0.12" text-anchor="middle" fill="#222" textLength="8.80" lengthAdjust="spacingAndGlyphs">−1</text>
<line x1="109.95" y1="400.40" x2="109.95" y2="403.00" stroke="#222" stroke-width="0.8"/>
<text x="109.95" y="413.20" font-size="7.6" stroke="#222" stroke-width="0.12" text-anchor="middle" fill="#222" textLength="4.30" lengthAdjust="spacingAndGlyphs">0</text>
<line x1="122.40" y1="400.40" x2="122.40" y2="403.00" stroke="#222" stroke-width="0.8"/>
<text x="122.40" y="413.20" font-size="7.6" stroke="#222" stroke-width="0.12" text-anchor="middle" fill="#222" textLength="4.30" lengthAdjust="spacingAndGlyphs">1</text>
<line x1="134.85" y1="400.40" x2="134.85" y2="403.00" stroke="#222" stroke-width="0.8"/>
<text x="134.85" y="413.20" font-size="7.6" stroke="#222" stroke-width="0.12" text-anchor="middle" fill="#222" textLength="4.30" lengthAdjust="spacingAndGlyphs">2</text>
<line x1="147.30" y1="400.40" x2="147.30" y2="403.00" stroke="#222" stroke-width="0.8"/>
<text x="147.30" y="413.20" font-size="7.6" stroke="#222" stroke-width="0.12" text-anchor="middle" fill="#222" textLength="4.30" lengthAdjust="spacingAndGlyphs">3</text>
<line x1="159.75" y1="400.40" x2="159.75" y2="403.00" stroke="#222" stroke-width="0.8"/>
<text x="159.75" y="413.20" font-size="7.6" stroke="#222" stroke-width="0.12" text-anchor="middle" fill="#222" textLength="4.30" lengthAdjust="spacingAndGlyphs">4</text>
<line x1="172.20" y1="400.40" x2="172.20" y2="403.00" stroke="#222" stroke-width="0.8"/>
<text x="172.20" y="413.20" font-size="7.6" stroke="#222" stroke-width="0.12" text-anchor="middle" fill="#222" textLength="4.30" lengthAdjust="spacingAndGlyphs">5</text>
<text x="116.20" y="426.40" font-size="8.8" stroke="#222" stroke-width="0.12" text-anchor="middle" fill="#222" textLength="19.80" lengthAdjust="spacingAndGlyphs">LogFC</text>
<text x="24.90" y="348.00" font-size="9.2" stroke="#222" stroke-width="0.12" text-anchor="middle" fill="#222" textLength="29.00" lengthAdjust="spacingAndGlyphs" transform="rotate(-90 24.90 348.00)">LogOdds</text>
<text x="68.30" y="329.00" font-size="8.1" stroke="#5ab4e4" stroke-width="0.12" fill="#5ab4e4" font-style="italic" textLength="18.40" lengthAdjust="spacingAndGlyphs">Mdx1</text>
<text x="96.00" y="331.80" font-size="8.1" stroke="#5ab4e4" stroke-width="0.12" fill="#5ab4e4" font-style="italic" textLength="19.00" lengthAdjust="spacingAndGlyphs">Cxcr2</text>
<text x="60.20" y="340.20" font-size="8.1" stroke="#5ab4e4" stroke-width="0.12" fill="#5ab4e4" font-style="italic" textLength="13.30" lengthAdjust="spacingAndGlyphs">Ets1</text>
<text x="60.20" y="351.20" font-size="8.1" stroke="#5ab4e4" stroke-width="0.12" fill="#5ab4e4" font-style="italic" textLength="10.40" lengthAdjust="spacingAndGlyphs">Lyn</text>
<text x="59.00" y="363.30" font-size="8.1" stroke="#5ab4e4" stroke-width="0.12" fill="#5ab4e4" font-style="italic" textLength="10.80" lengthAdjust="spacingAndGlyphs">Fgr</text>
<text x="57.90" y="384.20" font-size="8.1" stroke="#5ab4e4" stroke-width="0.12" fill="#5ab4e4" font-style="italic" textLength="15.40" lengthAdjust="spacingAndGlyphs">JunB</text>
<line x1="72.30" y1="342.50" x2="93.10" y2="352.60" stroke="#5ab4e4" stroke-width="0.7"/>
<line x1="72.10" y1="352.00" x2="96.50" y2="353.20" stroke="#5ab4e4" stroke-width="0.7"/>
<line x1="71.50" y1="362.10" x2="94.80" y2="363.00" stroke="#5ab4e4" stroke-width="0.7"/>
<line x1="76.20" y1="383.70" x2="91.50" y2="388.00" stroke="#5ab4e4" stroke-width="0.7"/>
<text x="149.80" y="298.60" font-size="8.1" stroke="#ee3a34" stroke-width="0.12" fill="#ee3a34" font-style="italic" textLength="14.20" lengthAdjust="spacingAndGlyphs">Myb</text>
<text x="145.00" y="315.00" font-size="8.1" stroke="#ee3a34" stroke-width="0.12" fill="#ee3a34" font-style="italic" textLength="13.50" lengthAdjust="spacingAndGlyphs">Myc</text>
<text x="144.00" y="322.20" font-size="8.1" stroke="#ee3a34" stroke-width="0.12" fill="#ee3a34" font-style="italic" textLength="21.50" lengthAdjust="spacingAndGlyphs">Hoxa9</text>
<text x="153.00" y="364.20" font-size="8.1" stroke="#ee3a34" stroke-width="0.12" fill="#ee3a34" font-style="italic" textLength="25.10" lengthAdjust="spacingAndGlyphs">Hoxa10</text>
<text x="153.00" y="378.80" font-size="8.1" stroke="#ee3a34" stroke-width="0.12" fill="#ee3a34" font-style="italic" textLength="18.80" lengthAdjust="spacingAndGlyphs">Meis1</text>
<line x1="147.30" y1="297.30" x2="149.30" y2="297.00" stroke="#ee3a34" stroke-width="0.6"/>
<line x1="134.90" y1="369.40" x2="152.20" y2="362.60" stroke="#ee3a34" stroke-width="0.7"/>
<line x1="134.90" y1="384.30" x2="152.20" y2="376.20" stroke="#ee3a34" stroke-width="0.7"/>
<text x="204.00" y="285.60" font-size="10.8" stroke="#000" stroke-width="0.12" font-weight="bold" fill="#000" textLength="7.90" lengthAdjust="spacingAndGlyphs">D</text>
<text x="219.20" y="319.20" font-size="8.8" stroke="#111" stroke-width="0.12" font-weight="bold" fill="#111" textLength="74.10" lengthAdjust="spacingAndGlyphs">Top motifs down</text>
<text x="228.50" y="329.80" font-size="8.8" stroke="#111" stroke-width="0.12" font-weight="bold" fill="#111" textLength="55.20" lengthAdjust="spacingAndGlyphs">with SETBP1</text>
<text x="320.40" y="319.30" font-size="8.8" stroke="#111" stroke-width="0.12" font-weight="bold" fill="#111" textLength="60.00" lengthAdjust="spacingAndGlyphs">Top motifs up</text>
<text x="322.30" y="329.70" font-size="8.8" stroke="#111" stroke-width="0.12" font-weight="bold" fill="#111" textLength="55.20" lengthAdjust="spacingAndGlyphs">with SETBP1</text>
<text x="292.30" y="336.70" font-size="6.4" stroke="#222" stroke-width="0.12" font-weight="bold" fill="#222" textLength="24.60" lengthAdjust="spacingAndGlyphs">q-value</text>
<text x="398.80" y="336.70" font-size="6.4" stroke="#222" stroke-width="0.12" font-weight="bold" fill="#222" textLength="24.60" lengthAdjust="spacingAndGlyphs">q-value</text>
<text transform="translate(214.00 348.60) scale(0.621 0.061)" font-size="10" font-weight="bold" fill="#e1251b" stroke="#e1251b" stroke-width="0.35" vector-effect="non-scaling-stroke">T</text>
<text transform="translate(214.00 348.17) scale(0.525 1.106)" font-size="10" font-weight="bold" fill="#22b14c" stroke="#22b14c" stroke-width="0.35" vector-effect="non-scaling-stroke">A</text>
<text transform="translate(217.99 348.60) scale(0.525 0.061)" font-size="10" font-weight="bold" fill="#2233a6" stroke="#2233a6" stroke-width="0.35" vector-effect="non-scaling-stroke">C</text>
<text transform="translate(217.99 348.17) scale(0.525 1.106)" font-size="10" font-weight="bold" fill="#22b14c" stroke="#22b14c" stroke-width="0.35" vector-effect="non-scaling-stroke">A</text>
<text transform="translate(221.98 348.60) scale(0.525 1.106)" font-size="10" font-weight="bold" fill="#22b14c" stroke="#22b14c" stroke-width="0.35" vector-effect="non-scaling-stroke">A</text>
<text transform="translate(225.97 348.60) scale(0.525 0.307)" font-size="10" font-weight="bold" fill="#2233a6" stroke="#2233a6" stroke-width="0.35" vector-effect="non-scaling-stroke">C</text>
<text transform="translate(225.97 346.45) scale(0.487 0.799)" font-size="10" font-weight="bold" fill="#f7a21b" stroke="#f7a21b" stroke-width="0.35" vector-effect="non-scaling-stroke">G</text>
<text transform="translate(229.97 348.60) scale(0.525 0.307)" font-size="10" font-weight="bold" fill="#2233a6" stroke="#2233a6" stroke-width="0.35" vector-effect="non-scaling-stroke">C</text>
<text transform="translate(229.97 346.45) scale(0.525 0.430)" font-size="10" font-weight="bold" fill="#22b14c" stroke="#22b14c" stroke-width="0.35" vector-effect="non-scaling-stroke">A</text>
<text transform="translate(229.97 343.44) scale(0.487 0.369)" font-size="10" font-weight="bold" fill="#f7a21b" stroke="#f7a21b" stroke-width="0.35" vector-effect="non-scaling-stroke">G</text>
<text transform="translate(233.96 348.60) scale(0.487 1.167)" font-size="10" font-weight="bold" fill="#f7a21b" stroke="#f7a21b" stroke-width="0.35" vector-effect="non-scaling-stroke">G</text>
<text transform="translate(237.95 348.60) scale(0.487 1.167)" font-size="10" font-weight="bold" fill="#f7a21b" stroke="#f7a21b" stroke-width="0.35" vector-effect="non-scaling-stroke">G</text>
<text transform="translate(241.94 348.60) scale(0.525 1.167)" font-size="10" font-weight="bold" fill="#22b14c" stroke="#22b14c" stroke-width="0.35" vector-effect="non-scaling-stroke">A</text>
<text transform="translate(245.93 348.60) scale(0.525 1.167)" font-size="10" font-weight="bold" fill="#22b14c" stroke="#22b14c" stroke-width="0.35" vector-effect="non-scaling-stroke">A</text>
<text transform="translate(249.93 348.60) scale(0.487 1.106)" font-size="10" font-weight="bold" fill="#f7a21b" stroke="#f7a21b" stroke-width="0.35" vector-effect="non-scaling-stroke">G</text>
<text transform="translate(253.92 348.60) scale(0.525 0.123)" font-size="10" font-weight="bold" fill="#2233a6" stroke="#2233a6" stroke-width="0.35" vector-effect="non-scaling-stroke">C</text>
<text transform="translate(253.92 347.74) scale(0.621 1.044)" font-size="10" font-weight="bold" fill="#e1251b" stroke="#e1251b" stroke-width="0.35" vector-effect="non-scaling-stroke">T</text>
<text transform="translate(257.91 348.60) scale(0.525 0.123)" font-size="10" font-weight="bold" fill="#2233a6" stroke="#2233a6" stroke-width="0.35" vector-effect="non-scaling-stroke">C</text>
<text transform="translate(257.91 347.74) scale(0.487 1.044)" font-size="10" font-weight="bold" fill="#f7a21b" stroke="#f7a21b" stroke-width="0.35" vector-effect="non-scaling-stroke">G</text>
<text transform="translate(213.50 360.40) scale(0.741 0.182)" font-size="10" font-weight="bold" fill="#e1251b" stroke="#e1251b" stroke-width="0.35" vector-effect="non-scaling-stroke">T</text>
<text transform="translate(213.50 359.12) scale(0.627 0.121)" font-size="10" font-weight="bold" fill="#2233a6" stroke="#2233a6" stroke-width="0.35" vector-effect="non-scaling-stroke">C</text>
<text transform="translate(213.50 358.27) scale(0.627 0.850)" font-size="10" font-weight="bold" fill="#22b14c" stroke="#22b14c" stroke-width="0.35" vector-effect="non-scaling-stroke">A</text>
<text transform="translate(218.23 360.40) scale(0.582 1.093)" font-size="10" font-weight="bold" fill="#f7a21b" stroke="#f7a21b" stroke-width="0.35" vector-effect="non-scaling-stroke">G</text>
<text transform="translate(222.96 360.40) scale(0.627 1.154)" font-size="10" font-weight="bold" fill="#22b14c" stroke="#22b14c" stroke-width="0.35" vector-effect="non-scaling-stroke">A</text>
<text transform="translate(227.69 360.40) scale(0.582 1.154)" font-size="10" font-weight="bold" fill="#f7a21b" stroke="#f7a21b" stroke-width="0.35" vector-effect="non-scaling-stroke">G</text>
<text transform="translate(232.42 360.40) scale(0.582 1.154)" font-size="10" font-weight="bold" fill="#f7a21b" stroke="#f7a21b" stroke-width="0.35" vector-effect="non-scaling-stroke">G</text>
<text transform="translate(237.15 360.40) scale(0.627 1.154)" font-size="10" font-weight="bold" fill="#22b14c" stroke="#22b14c" stroke-width="0.35" vector-effect="non-scaling-stroke">A</text>
<text transform="translate(241.88 360.40) scale(0.627 1.154)" font-size="10" font-weight="bold" fill="#22b14c" stroke="#22b14c" stroke-width="0.35" vector-effect="non-scaling-stroke">A</text>
<text transform="translate(246.61 360.40) scale(0.582 1.154)" font-size="10" font-weight="bold" fill="#f7a21b" stroke="#f7a21b" stroke-width="0.35" vector-effect="non-scaling-stroke">G</text>
<text transform="translate(251.34 360.40) scale(0.741 1.154)" font-size="10" font-weight="bold" fill="#e1251b" stroke="#e1251b" stroke-width="0.35" vector-effect="non-scaling-stroke">T</text>
<text transform="translate(256.07 360.40) scale(0.627 0.182)" font-size="10" font-weight="bold" fill="#2233a6" stroke="#2233a6" stroke-width="0.35" vector-effect="non-scaling-stroke">C</text>
<text transform="translate(256.07 359.12) scale(0.582 0.911)" font-size="10" font-weight="bold" fill="#f7a21b" stroke="#f7a21b" stroke-width="0.35" vector-effect="non-scaling-stroke">G</text>
<text transform="translate(214.00 373.30) scale(0.743 0.254)" font-size="10" font-weight="bold" fill="#e1251b" stroke="#e1251b" stroke-width="0.35" vector-effect="non-scaling-stroke">T</text>
<text transform="translate(214.00 371.52) scale(0.629 0.954)" font-size="10" font-weight="bold" fill="#22b14c" stroke="#22b14c" stroke-width="0.35" vector-effect="non-scaling-stroke">A</text>
<text transform="translate(218.74 373.30) scale(0.743 0.191)" font-size="10" font-weight="bold" fill="#e1251b" stroke="#e1251b" stroke-width="0.35" vector-effect="non-scaling-stroke">T</text>
<text transform="translate(218.74 371.97) scale(0.584 0.254)" font-size="10" font-weight="bold" fill="#f7a21b" stroke="#f7a21b" stroke-width="0.35" vector-effect="non-scaling-stroke">G</text>
<text transform="translate(218.74 370.19) scale(0.629 0.572)" font-size="10" font-weight="bold" fill="#2233a6" stroke="#2233a6" stroke-width="0.35" vector-effect="non-scaling-stroke">C</text>
<text transform="translate(223.48 373.30) scale(0.584 0.254)" font-size="10" font-weight="bold" fill="#f7a21b" stroke="#f7a21b" stroke-width="0.35" vector-effect="non-scaling-stroke">G</text>
<text transform="translate(223.48 371.52) scale(0.629 0.318)" font-size="10" font-weight="bold" fill="#22b14c" stroke="#22b14c" stroke-width="0.35" vector-effect="non-scaling-stroke">A</text>
<text transform="translate(223.48 369.29) scale(0.629 0.572)" font-size="10" font-weight="bold" fill="#2233a6" stroke="#2233a6" stroke-width="0.35" vector-effect="non-scaling-stroke">C</text>
<text transform="translate(228.22 373.30) scale(0.629 1.208)" font-size="10" font-weight="bold" fill="#22b14c" stroke="#22b14c" stroke-width="0.35" vector-effect="non-scaling-stroke">A</text>
<text transform="translate(232.96 373.30) scale(0.584 1.208)" font-size="10" font-weight="bold" fill="#f7a21b" stroke="#f7a21b" stroke-width="0.35" vector-effect="non-scaling-stroke">G</text>
<text transform="translate(237.70 373.30) scale(0.584 1.208)" font-size="10" font-weight="bold" fill="#f7a21b" stroke="#f7a21b" stroke-width="0.35" vector-effect="non-scaling-stroke">G</text>
<text transform="translate(242.44 373.30) scale(0.629 1.208)" font-size="10" font-weight="bold" fill="#22b14c" stroke="#22b14c" stroke-width="0.35" vector-effect="non-scaling-stroke">A</text>
<text transform="translate(247.18 373.30) scale(0.629 1.208)" font-size="10" font-weight="bold" fill="#22b14c" stroke="#22b14c" stroke-width="0.35" vector-effect="non-scaling-stroke">A</text>
<text transform="translate(251.92 373.30) scale(0.584 1.144)" font-size="10" font-weight="bold" fill="#f7a21b" stroke="#f7a21b" stroke-width="0.35" vector-effect="non-scaling-stroke">G</text>
<text transform="translate(256.66 373.30) scale(0.629 0.127)" font-size="10" font-weight="bold" fill="#2233a6" stroke="#2233a6" stroke-width="0.35" vector-effect="non-scaling-stroke">C</text>
<text transform="translate(256.66 372.41) scale(0.743 1.081)" font-size="10" font-weight="bold" fill="#e1251b" stroke="#e1251b" stroke-width="0.35" vector-effect="non-scaling-stroke">T</text>
<text transform="translate(214.00 385.30) scale(0.629 0.189)" font-size="10" font-weight="bold" fill="#2233a6" stroke="#2233a6" stroke-width="0.35" vector-effect="non-scaling-stroke">C</text>
<text transform="translate(214.00 383.98) scale(0.629 0.566)" font-size="10" font-weight="bold" fill="#22b14c" stroke="#22b14c" stroke-width="0.35" vector-effect="non-scaling-stroke">A</text>
<text transform="translate(214.00 380.02) scale(0.584 0.440)" font-size="10" font-weight="bold" fill="#f7a21b" stroke="#f7a21b" stroke-width="0.35" vector-effect="non-scaling-stroke">G</text>
<text transform="translate(218.74 385.30) scale(0.743 1.194)" font-size="10" font-weight="bold" fill="#e1251b" stroke="#e1251b" stroke-width="0.35" vector-effect="non-scaling-stroke">T</text>
<text transform="translate(223.48 385.30) scale(0.743 1.194)" font-size="10" font-weight="bold" fill="#e1251b" stroke="#e1251b" stroke-width="0.35" vector-effect="non-scaling-stroke">T</text>
<text transform="translate(228.22 385.30) scale(0.629 1.194)" font-size="10" font-weight="bold" fill="#22b14c" stroke="#22b14c" stroke-width="0.35" vector-effect="non-scaling-stroke">A</text>
<text transform="translate(232.96 385.30) scale(0.743 1.194)" font-size="10" font-weight="bold" fill="#e1251b" stroke="#e1251b" stroke-width="0.35" vector-effect="non-scaling-stroke">T</text>
<text transform="translate(237.70 385.30) scale(0.743 0.251)" font-size="10" font-weight="bold" fill="#e1251b" stroke="#e1251b" stroke-width="0.35" vector-effect="non-scaling-stroke">T</text>
<text transform="translate(237.70 383.54) scale(0.584 0.943)" font-size="10" font-weight="bold" fill="#f7a21b" stroke="#f7a21b" stroke-width="0.35" vector-effect="non-scaling-stroke">G</text>
<text transform="translate(242.44 385.30) scale(0.629 0.251)" font-size="10" font-weight="bold" fill="#22b14c" stroke="#22b14c" stroke-width="0.35" vector-effect="non-scaling-stroke">A</text>
<text transform="translate(242.44 383.54) scale(0.629 0.377)" font-size="10" font-weight="bold" fill="#2233a6" stroke="#2233a6" stroke-width="0.35" vector-effect="non-scaling-stroke">C</text>
<text transform="translate(242.44 380.90) scale(0.743 0.566)" font-size="10" font-weight="bold" fill="#e1251b" stroke="#e1251b" stroke-width="0.35" vector-effect="non-scaling-stroke">T</text>
<text transform="translate(247.18 385.30) scale(0.629 1.194)" font-size="10" font-weight="bold" fill="#22b14c" stroke="#22b14c" stroke-width="0.35" vector-effect="non-scaling-stroke">A</text>
<text transform="translate(251.92 385.30) scale(0.629 1.194)" font-size="10" font-weight="bold" fill="#22b14c" stroke="#22b14c" stroke-width="0.35" vector-effect="non-scaling-stroke">A</text>
<text transform="translate(256.66 385.30) scale(0.584 0.251)" font-size="10" font-weight="bold" fill="#f7a21b" stroke="#f7a21b" stroke-width="0.35" vector-effect="non-scaling-stroke">G</text>
<text transform="translate(256.66 383.54) scale(0.743 0.440)" font-size="10" font-weight="bold" fill="#e1251b" stroke="#e1251b" stroke-width="0.35" vector-effect="non-scaling-stroke">T</text>
<text transform="translate(256.66 380.46) scale(0.629 0.503)" font-size="10" font-weight="bold" fill="#2233a6" stroke="#2233a6" stroke-width="0.35" vector-effect="non-scaling-stroke">C</text>
<text transform="translate(214.00 397.70) scale(0.629 0.124)" font-size="10" font-weight="bold" fill="#2233a6" stroke="#2233a6" stroke-width="0.35" vector-effect="non-scaling-stroke">C</text>
<text transform="translate(214.00 396.83) scale(0.629 1.056)" font-size="10" font-weight="bold" fill="#22b14c" stroke="#22b14c" stroke-width="0.35" vector-effect="non-scaling-stroke">A</text>
<text transform="translate(218.74 397.70) scale(0.743 1.181)" font-size="10" font-weight="bold" fill="#e1251b" stroke="#e1251b" stroke-width="0.35" vector-effect="non-scaling-stroke">T</text>
<text transform="translate(223.48 397.70) scale(0.743 1.181)" font-size="10" font-weight="bold" fill="#e1251b" stroke="#e1251b" stroke-width="0.35" vector-effect="non-scaling-stroke">T</text>
<text transform="translate(228.22 397.70) scale(0.629 0.124)" font-size="10" font-weight="bold" fill="#22b14c" stroke="#22b14c" stroke-width="0.35" vector-effect="non-scaling-stroke">A</text>
<text transform="translate(228.22 396.83) scale(0.584 0.994)" font-size="10" font-weight="bold" fill="#f7a21b" stroke="#f7a21b" stroke-width="0.35" vector-effect="non-scaling-stroke">G</text>
<text transform="translate(232.96 397.70) scale(0.743 0.124)" font-size="10" font-weight="bold" fill="#e1251b" stroke="#e1251b" stroke-width="0.35" vector-effect="non-scaling-stroke">T</text>
<text transform="translate(232.96 396.83) scale(0.629 0.994)" font-size="10" font-weight="bold" fill="#2233a6" stroke="#2233a6" stroke-width="0.35" vector-effect="non-scaling-stroke">C</text>
<text transform="translate(237.70 397.70) scale(0.629 0.124)" font-size="10" font-weight="bold" fill="#22b14c" stroke="#22b14c" stroke-width="0.35" vector-effect="non-scaling-stroke">A</text>
<text transform="translate(237.70 396.83) scale(0.584 0.994)" font-size="10" font-weight="bold" fill="#f7a21b" stroke="#f7a21b" stroke-width="0.35" vector-effect="non-scaling-stroke">G</text>
<text transform="translate(242.44 397.70) scale(0.629 1.119)" font-size="10" font-weight="bold" fill="#2233a6" stroke="#2233a6" stroke-width="0.35" vector-effect="non-scaling-stroke">C</text>
<text transform="translate(247.18 397.70) scale(0.629 1.181)" font-size="10" font-weight="bold" fill="#22b14c" stroke="#22b14c" stroke-width="0.35" vector-effect="non-scaling-stroke">A</text>
<text transform="translate(251.92 397.70) scale(0.629 1.181)" font-size="10" font-weight="bold" fill="#22b14c" stroke="#22b14c" stroke-width="0.35" vector-effect="non-scaling-stroke">A</text>
<text transform="translate(256.66 397.70) scale(0.743 0.186)" font-size="10" font-weight="bold" fill="#e1251b" stroke="#e1251b" stroke-width="0.35" vector-effect="non-scaling-stroke">T</text>
<text transform="translate(256.66 396.39) scale(0.629 0.932)" font-size="10" font-weight="bold" fill="#2233a6" stroke="#2233a6" stroke-width="0.35" vector-effect="non-scaling-stroke">C</text>
<text transform="translate(320.30 348.70) scale(0.621 0.149)" font-size="10" font-weight="bold" fill="#e1251b" stroke="#e1251b" stroke-width="0.35" vector-effect="non-scaling-stroke">T</text>
<text transform="translate(320.30 347.66) scale(0.525 0.224)" font-size="10" font-weight="bold" fill="#2233a6" stroke="#2233a6" stroke-width="0.35" vector-effect="non-scaling-stroke">C</text>
<text transform="translate(320.30 346.09) scale(0.487 0.273)" font-size="10" font-weight="bold" fill="#f7a21b" stroke="#f7a21b" stroke-width="0.35" vector-effect="non-scaling-stroke">G</text>
<text transform="translate(320.30 344.18) scale(0.525 0.497)" font-size="10" font-weight="bold" fill="#22b14c" stroke="#22b14c" stroke-width="0.35" vector-effect="non-scaling-stroke">A</text>
<text transform="translate(324.29 348.70) scale(0.487 0.435)" font-size="10" font-weight="bold" fill="#f7a21b" stroke="#f7a21b" stroke-width="0.35" vector-effect="non-scaling-stroke">G</text>
<text transform="translate(324.29 345.65) scale(0.525 0.684)" font-size="10" font-weight="bold" fill="#2233a6" stroke="#2233a6" stroke-width="0.35" vector-effect="non-scaling-stroke">C</text>
<text transform="translate(328.28 348.70) scale(0.525 1.181)" font-size="10" font-weight="bold" fill="#2233a6" stroke="#2233a6" stroke-width="0.35" vector-effect="non-scaling-stroke">C</text>
<text transform="translate(332.28 348.70) scale(0.525 1.181)" font-size="10" font-weight="bold" fill="#22b14c" stroke="#22b14c" stroke-width="0.35" vector-effect="non-scaling-stroke">A</text>
<text transform="translate(336.27 348.70) scale(0.525 1.181)" font-size="10" font-weight="bold" fill="#2233a6" stroke="#2233a6" stroke-width="0.35" vector-effect="non-scaling-stroke">C</text>
<text transform="translate(340.26 348.70) scale(0.487 1.181)" font-size="10" font-weight="bold" fill="#f7a21b" stroke="#f7a21b" stroke-width="0.35" vector-effect="non-scaling-stroke">G</text>
<text transform="translate(344.25 348.70) scale(0.621 1.181)" font-size="10" font-weight="bold" fill="#e1251b" stroke="#e1251b" stroke-width="0.35" vector-effect="non-scaling-stroke">T</text>
<text transform="translate(348.24 348.70) scale(0.487 1.119)" font-size="10" font-weight="bold" fill="#f7a21b" stroke="#f7a21b" stroke-width="0.35" vector-effect="non-scaling-stroke">G</text>
<text transform="translate(352.23 348.70) scale(0.525 0.249)" font-size="10" font-weight="bold" fill="#22b14c" stroke="#22b14c" stroke-width="0.35" vector-effect="non-scaling-stroke">A</text>
<text transform="translate(352.23 346.96) scale(0.525 0.249)" font-size="10" font-weight="bold" fill="#2233a6" stroke="#2233a6" stroke-width="0.35" vector-effect="non-scaling-stroke">C</text>
<text transform="translate(352.23 345.22) scale(0.487 0.311)" font-size="10" font-weight="bold" fill="#f7a21b" stroke="#f7a21b" stroke-width="0.35" vector-effect="non-scaling-stroke">G</text>
<text transform="translate(356.23 348.70) scale(0.525 0.249)" font-size="10" font-weight="bold" fill="#2233a6" stroke="#2233a6" stroke-width="0.35" vector-effect="non-scaling-stroke">C</text>
<text transform="translate(356.23 346.96) scale(0.487 0.249)" font-size="10" font-weight="bold" fill="#f7a21b" stroke="#f7a21b" stroke-width="0.35" vector-effect="non-scaling-stroke">G</text>
<text transform="translate(356.23 345.22) scale(0.621 0.311)" font-size="10" font-weight="bold" fill="#e1251b" stroke="#e1251b" stroke-width="0.35" vector-effect="non-scaling-stroke">T</text>
<text transform="translate(360.22 348.70) scale(0.525 0.249)" font-size="10" font-weight="bold" fill="#22b14c" stroke="#22b14c" stroke-width="0.35" vector-effect="non-scaling-stroke">A</text>
<text transform="translate(360.22 346.96) scale(0.525 0.249)" font-size="10" font-weight="bold" fill="#2233a6" stroke="#2233a6" stroke-width="0.35" vector-effect="non-scaling-stroke">C</text>
<text transform="translate(360.22 345.22) scale(0.621 0.373)" font-size="10" font-weight="bold" fill="#e1251b" stroke="#e1251b" stroke-width="0.35" vector-effect="non-scaling-stroke">T</text>
<text transform="translate(364.21 348.70) scale(0.525 0.311)" font-size="10" font-weight="bold" fill="#2233a6" stroke="#2233a6" stroke-width="0.35" vector-effect="non-scaling-stroke">C</text>
<text transform="translate(364.21 346.52) scale(0.525 0.373)" font-size="10" font-weight="bold" fill="#22b14c" stroke="#22b14c" stroke-width="0.35" vector-effect="non-scaling-stroke">A</text>
<text transform="translate(364.21 343.91) scale(0.621 0.186)" font-size="10" font-weight="bold" fill="#e1251b" stroke="#e1251b" stroke-width="0.35" vector-effect="non-scaling-stroke">T</text>
<text transform="translate(320.30 361.40) scale(0.751 0.186)" font-size="10" font-weight="bold" fill="#e1251b" stroke="#e1251b" stroke-width="0.35" vector-effect="non-scaling-stroke">T</text>
<text transform="translate(320.30 360.09) scale(0.590 0.373)" font-size="10" font-weight="bold" fill="#f7a21b" stroke="#f7a21b" stroke-width="0.35" vector-effect="non-scaling-stroke">G</text>
<text transform="translate(320.30 357.48) scale(0.636 0.435)" font-size="10" font-weight="bold" fill="#22b14c" stroke="#22b14c" stroke-width="0.35" vector-effect="non-scaling-stroke">A</text>
<text transform="translate(325.09 361.40) scale(0.636 0.186)" font-size="10" font-weight="bold" fill="#2233a6" stroke="#2233a6" stroke-width="0.35" vector-effect="non-scaling-stroke">C</text>
<text transform="translate(325.09 360.09) scale(0.636 0.373)" font-size="10" font-weight="bold" fill="#22b14c" stroke="#22b14c" stroke-width="0.35" vector-effect="non-scaling-stroke">A</text>
<text transform="translate(325.09 357.48) scale(0.590 0.435)" font-size="10" font-weight="bold" fill="#f7a21b" stroke="#f7a21b" stroke-width="0.35" vector-effect="non-scaling-stroke">G</text>
<text transform="translate(329.88 361.40) scale(0.590 0.249)" font-size="10" font-weight="bold" fill="#f7a21b" stroke="#f7a21b" stroke-width="0.35" vector-effect="non-scaling-stroke">G</text>
<text transform="translate(329.88 359.66) scale(0.636 0.186)" font-size="10" font-weight="bold" fill="#22b14c" stroke="#22b14c" stroke-width="0.35" vector-effect="non-scaling-stroke">A</text>
<text transform="translate(329.88 358.35) scale(0.636 0.621)" font-size="10" font-weight="bold" fill="#2233a6" stroke="#2233a6" stroke-width="0.35" vector-effect="non-scaling-stroke">C</text>
<text transform="translate(334.67 361.40) scale(0.636 1.181)" font-size="10" font-weight="bold" fill="#22b14c" stroke="#22b14c" stroke-width="0.35" vector-effect="non-scaling-stroke">A</text>
<text transform="translate(339.46 361.40) scale(0.636 1.181)" font-size="10" font-weight="bold" fill="#2233a6" stroke="#2233a6" stroke-width="0.35" vector-effect="non-scaling-stroke">C</text>
<text transform="translate(344.25 361.40) scale(0.636 1.181)" font-size="10" font-weight="bold" fill="#22b14c" stroke="#22b14c" stroke-width="0.35" vector-effect="non-scaling-stroke">A</text>
<text transform="translate(349.04 361.40) scale(0.751 0.249)" font-size="10" font-weight="bold" fill="#e1251b" stroke="#e1251b" stroke-width="0.35" vector-effect="non-scaling-stroke">T</text>
<text transform="translate(349.04 359.66) scale(0.636 0.870)" font-size="10" font-weight="bold" fill="#2233a6" stroke="#2233a6" stroke-width="0.35" vector-effect="non-scaling-stroke">C</text>
<text transform="translate(353.83 361.40) scale(0.590 1.181)" font-size="10" font-weight="bold" fill="#f7a21b" stroke="#f7a21b" stroke-width="0.35" vector-effect="non-scaling-stroke">G</text>
<text transform="translate(358.62 361.40) scale(0.751 1.181)" font-size="10" font-weight="bold" fill="#e1251b" stroke="#e1251b" stroke-width="0.35" vector-effect="non-scaling-stroke">T</text>
<text transform="translate(363.41 361.40) scale(0.590 1.181)" font-size="10" font-weight="bold" fill="#f7a21b" stroke="#f7a21b" stroke-width="0.35" vector-effect="non-scaling-stroke">G</text>
<text transform="translate(320.30 373.50) scale(0.636 0.249)" font-size="10" font-weight="bold" fill="#2233a6" stroke="#2233a6" stroke-width="0.35" vector-effect="non-scaling-stroke">C</text>
<text transform="translate(320.30 371.76) scale(0.636 0.249)" font-size="10" font-weight="bold" fill="#22b14c" stroke="#22b14c" stroke-width="0.35" vector-effect="non-scaling-stroke">A</text>
<text transform="translate(320.30 370.02) scale(0.590 0.249)" font-size="10" font-weight="bold" fill="#f7a21b" stroke="#f7a21b" stroke-width="0.35" vector-effect="non-scaling-stroke">G</text>
<text transform="translate(320.30 368.28) scale(0.590 0.186)" font-size="10" font-weight="bold" fill="#f7a21b" stroke="#f7a21b" stroke-width="0.35" vector-effect="non-scaling-stroke">G</text>
<text transform="translate(325.09 373.50) scale(0.751 0.124)" font-size="10" font-weight="bold" fill="#e1251b" stroke="#e1251b" stroke-width="0.35" vector-effect="non-scaling-stroke">T</text>
<text transform="translate(325.09 372.63) scale(0.590 0.249)" font-size="10" font-weight="bold" fill="#f7a21b" stroke="#f7a21b" stroke-width="0.35" vector-effect="non-scaling-stroke">G</text>
<text transform="translate(325.09 370.89) scale(0.636 0.249)" font-size="10" font-weight="bold" fill="#22b14c" stroke="#22b14c" stroke-width="0.35" vector-effect="non-scaling-stroke">A</text>
<text transform="translate(325.09 369.15) scale(0.590 0.311)" font-size="10" font-weight="bold" fill="#f7a21b" stroke="#f7a21b" stroke-width="0.35" vector-effect="non-scaling-stroke">G</text>
<text transform="translate(329.88 373.50) scale(0.636 0.249)" font-size="10" font-weight="bold" fill="#22b14c" stroke="#22b14c" stroke-width="0.35" vector-effect="non-scaling-stroke">A</text>
<text transform="translate(329.88 371.76) scale(0.590 0.249)" font-size="10" font-weight="bold" fill="#f7a21b" stroke="#f7a21b" stroke-width="0.35" vector-effect="non-scaling-stroke">G</text>
<text transform="translate(329.88 370.02) scale(0.636 0.559)" font-size="10" font-weight="bold" fill="#2233a6" stroke="#2233a6" stroke-width="0.35" vector-effect="non-scaling-stroke">C</text>
<text transform="translate(334.67 373.50) scale(0.636 1.181)" font-size="10" font-weight="bold" fill="#2233a6" stroke="#2233a6" stroke-width="0.35" vector-effect="non-scaling-stroke">C</text>
<text transform="translate(339.46 373.50) scale(0.636 1.181)" font-size="10" font-weight="bold" fill="#22b14c" stroke="#22b14c" stroke-width="0.35" vector-effect="non-scaling-stroke">A</text>
<text transform="translate(344.25 373.50) scale(0.636 1.181)" font-size="10" font-weight="bold" fill="#2233a6" stroke="#2233a6" stroke-width="0.35" vector-effect="non-scaling-stroke">C</text>
<text transform="translate(349.04 373.50) scale(0.590 1.181)" font-size="10" font-weight="bold" fill="#f7a21b" stroke="#f7a21b" stroke-width="0.35" vector-effect="non-scaling-stroke">G</text>
<text transform="translate(353.83 373.50) scale(0.751 1.181)" font-size="10" font-weight="bold" fill="#e1251b" stroke="#e1251b" stroke-width="0.35" vector-effect="non-scaling-stroke">T</text>
<text transform="translate(358.62 373.50) scale(0.590 1.181)" font-size="10" font-weight="bold" fill="#f7a21b" stroke="#f7a21b" stroke-width="0.35" vector-effect="non-scaling-stroke">G</text>
<text transform="translate(363.41 373.50) scale(0.636 0.373)" font-size="10" font-weight="bold" fill="#2233a6" stroke="#2233a6" stroke-width="0.35" vector-effect="non-scaling-stroke">C</text>
<text transform="translate(363.41 370.89) scale(0.590 0.621)" font-size="10" font-weight="bold" fill="#f7a21b" stroke="#f7a21b" stroke-width="0.35" vector-effect="non-scaling-stroke">G</text>
<text transform="translate(320.30 385.60) scale(0.904 0.184)" font-size="10" font-weight="bold" fill="#e1251b" stroke="#e1251b" stroke-width="0.35" vector-effect="non-scaling-stroke">T</text>
<text transform="translate(320.30 384.31) scale(0.765 0.184)" font-size="10" font-weight="bold" fill="#2233a6" stroke="#2233a6" stroke-width="0.35" vector-effect="non-scaling-stroke">C</text>
<text transform="translate(320.30 383.02) scale(0.710 0.246)" font-size="10" font-weight="bold" fill="#f7a21b" stroke="#f7a21b" stroke-width="0.35" vector-effect="non-scaling-stroke">G</text>
<text transform="translate(320.30 381.30) scale(0.765 0.369)" font-size="10" font-weight="bold" fill="#22b14c" stroke="#22b14c" stroke-width="0.35" vector-effect="non-scaling-stroke">A</text>
<text transform="translate(326.03 385.60) scale(0.710 0.307)" font-size="10" font-weight="bold" fill="#f7a21b" stroke="#f7a21b" stroke-width="0.35" vector-effect="non-scaling-stroke">G</text>
<text transform="translate(326.03 383.45) scale(0.765 0.676)" font-size="10" font-weight="bold" fill="#2233a6" stroke="#2233a6" stroke-width="0.35" vector-effect="non-scaling-stroke">C</text>
<text transform="translate(331.75 385.60) scale(0.765 1.167)" font-size="10" font-weight="bold" fill="#2233a6" stroke="#2233a6" stroke-width="0.35" vector-effect="non-scaling-stroke">C</text>
<text transform="translate(337.48 385.60) scale(0.765 1.167)" font-size="10" font-weight="bold" fill="#22b14c" stroke="#22b14c" stroke-width="0.35" vector-effect="non-scaling-stroke">A</text>
<text transform="translate(343.20 385.60) scale(0.765 1.167)" font-size="10" font-weight="bold" fill="#2233a6" stroke="#2233a6" stroke-width="0.35" vector-effect="non-scaling-stroke">C</text>
<text transform="translate(348.93 385.60) scale(0.710 1.167)" font-size="10" font-weight="bold" fill="#f7a21b" stroke="#f7a21b" stroke-width="0.35" vector-effect="non-scaling-stroke">G</text>
<text transform="translate(354.65 385.60) scale(0.904 1.167)" font-size="10" font-weight="bold" fill="#e1251b" stroke="#e1251b" stroke-width="0.35" vector-effect="non-scaling-stroke">T</text>
<text transform="translate(360.38 385.60) scale(0.710 1.167)" font-size="10" font-weight="bold" fill="#f7a21b" stroke="#f7a21b" stroke-width="0.35" vector-effect="non-scaling-stroke">G</text>
<text transform="translate(320.30 397.70) scale(0.751 0.184)" font-size="10" font-weight="bold" fill="#e1251b" stroke="#e1251b" stroke-width="0.35" vector-effect="non-scaling-stroke">T</text>
<text transform="translate(320.30 396.41) scale(0.636 0.246)" font-size="10" font-weight="bold" fill="#2233a6" stroke="#2233a6" stroke-width="0.35" vector-effect="non-scaling-stroke">C</text>
<text transform="translate(320.30 394.69) scale(0.636 0.246)" font-size="10" font-weight="bold" fill="#22b14c" stroke="#22b14c" stroke-width="0.35" vector-effect="non-scaling-stroke">A</text>
<text transform="translate(320.30 392.97) scale(0.590 0.246)" font-size="10" font-weight="bold" fill="#f7a21b" stroke="#f7a21b" stroke-width="0.35" vector-effect="non-scaling-stroke">G</text>
<text transform="translate(325.09 397.70) scale(0.751 0.184)" font-size="10" font-weight="bold" fill="#e1251b" stroke="#e1251b" stroke-width="0.35" vector-effect="non-scaling-stroke">T</text>
<text transform="translate(325.09 396.41) scale(0.636 0.246)" font-size="10" font-weight="bold" fill="#2233a6" stroke="#2233a6" stroke-width="0.35" vector-effect="non-scaling-stroke">C</text>
<text transform="translate(325.09 394.69) scale(0.636 0.246)" font-size="10" font-weight="bold" fill="#22b14c" stroke="#22b14c" stroke-width="0.35" vector-effect="non-scaling-stroke">A</text>
<text transform="translate(325.09 392.97) scale(0.590 0.246)" font-size="10" font-weight="bold" fill="#f7a21b" stroke="#f7a21b" stroke-width="0.35" vector-effect="non-scaling-stroke">G</text>
<text transform="translate(329.88 397.70) scale(0.636 0.184)" font-size="10" font-weight="bold" fill="#22b14c" stroke="#22b14c" stroke-width="0.35" vector-effect="non-scaling-stroke">A</text>
<text transform="translate(329.88 396.41) scale(0.590 0.246)" font-size="10" font-weight="bold" fill="#f7a21b" stroke="#f7a21b" stroke-width="0.35" vector-effect="non-scaling-stroke">G</text>
<text transform="translate(329.88 394.69) scale(0.636 0.614)" font-size="10" font-weight="bold" fill="#2233a6" stroke="#2233a6" stroke-width="0.35" vector-effect="non-scaling-stroke">C</text>
<text transform="translate(334.67 397.70) scale(0.636 1.167)" font-size="10" font-weight="bold" fill="#2233a6" stroke="#2233a6" stroke-width="0.35" vector-effect="non-scaling-stroke">C</text>
<text transform="translate(339.46 397.70) scale(0.636 1.167)" font-size="10" font-weight="bold" fill="#22b14c" stroke="#22b14c" stroke-width="0.35" vector-effect="non-scaling-stroke">A</text>
<text transform="translate(344.25 397.70) scale(0.636 1.167)" font-size="10" font-weight="bold" fill="#2233a6" stroke="#2233a6" stroke-width="0.35" vector-effect="non-scaling-stroke">C</text>
<text transform="translate(349.04 397.70) scale(0.590 1.167)" font-size="10" font-weight="bold" fill="#f7a21b" stroke="#f7a21b" stroke-width="0.35" vector-effect="non-scaling-stroke">G</text>
<text transform="translate(353.83 397.70) scale(0.751 1.167)" font-size="10" font-weight="bold" fill="#e1251b" stroke="#e1251b" stroke-width="0.35" vector-effect="non-scaling-stroke">T</text>
<text transform="translate(358.62 397.70) scale(0.590 1.167)" font-size="10" font-weight="bold" fill="#f7a21b" stroke="#f7a21b" stroke-width="0.35" vector-effect="non-scaling-stroke">G</text>
<text transform="translate(363.41 397.70) scale(0.636 0.369)" font-size="10" font-weight="bold" fill="#2233a6" stroke="#2233a6" stroke-width="0.35" vector-effect="non-scaling-stroke">C</text>
<text transform="translate(363.41 395.12) scale(0.590 0.614)" font-size="10" font-weight="bold" fill="#f7a21b" stroke="#f7a21b" stroke-width="0.35" vector-effect="non-scaling-stroke">G</text>
<text x="265.40" y="347.00" font-size="8.0" stroke="#2a2a2a" stroke-width="0.12" fill="#2a2a2a" textLength="20.40" lengthAdjust="spacingAndGlyphs">Spi1B</text>
<text x="291.80" y="347.00" font-size="8.0" stroke="#2a2a2a" stroke-width="0.12" fill="#2a2a2a" textLength="22.80" lengthAdjust="spacingAndGlyphs">0.0000</text>
<text x="372.30" y="347.00" font-size="8.0" stroke="#2a2a2a" stroke-width="0.12" fill="#2a2a2a" textLength="20.80" lengthAdjust="spacingAndGlyphs">c-Myc</text>
<text x="398.80" y="347.00" font-size="8.0" stroke="#2a2a2a" stroke-width="0.12" fill="#2a2a2a" textLength="22.50" lengthAdjust="spacingAndGlyphs">0.0000</text>
<text x="265.40" y="359.40" font-size="8.0" stroke="#2a2a2a" stroke-width="0.12" fill="#2a2a2a" textLength="16.10" lengthAdjust="spacingAndGlyphs">PU.1</text>
<text x="291.80" y="359.40" font-size="8.0" stroke="#2a2a2a" stroke-width="0.12" fill="#2a2a2a" textLength="22.80" lengthAdjust="spacingAndGlyphs">0.0000</text>
<text x="372.30" y="359.40" font-size="8.0" stroke="#2a2a2a" stroke-width="0.12" fill="#2a2a2a" textLength="20.80" lengthAdjust="spacingAndGlyphs">c-Myc</text>
<text x="398.80" y="359.40" font-size="8.0" stroke="#2a2a2a" stroke-width="0.12" fill="#2a2a2a" textLength="22.50" lengthAdjust="spacingAndGlyphs">0.0000</text>
<text x="265.40" y="371.80" font-size="8.0" stroke="#2a2a2a" stroke-width="0.12" fill="#2a2a2a" textLength="17.40" lengthAdjust="spacingAndGlyphs">ELF3</text>
<text x="291.80" y="371.80" font-size="8.0" stroke="#2a2a2a" stroke-width="0.12" fill="#2a2a2a" textLength="22.80" lengthAdjust="spacingAndGlyphs">0.0087</text>
<text x="372.30" y="371.80" font-size="8.0" stroke="#2a2a2a" stroke-width="0.12" fill="#2a2a2a" textLength="20.80" lengthAdjust="spacingAndGlyphs">n-Myc</text>
<text x="398.80" y="371.80" font-size="8.0" stroke="#2a2a2a" stroke-width="0.12" fill="#2a2a2a" textLength="22.50" lengthAdjust="spacingAndGlyphs">0.0000</text>
<text x="265.40" y="384.20" font-size="8.0" stroke="#2a2a2a" stroke-width="0.12" fill="#2a2a2a" textLength="13.80" lengthAdjust="spacingAndGlyphs">HLF</text>
<text x="291.80" y="384.20" font-size="8.0" stroke="#2a2a2a" stroke-width="0.12" fill="#2a2a2a" textLength="22.80" lengthAdjust="spacingAndGlyphs">0.0168</text>
<text x="372.30" y="384.20" font-size="8.0" stroke="#2a2a2a" stroke-width="0.12" fill="#2a2a2a" textLength="16.00" lengthAdjust="spacingAndGlyphs">MNT</text>
<text x="398.80" y="384.20" font-size="8.0" stroke="#2a2a2a" stroke-width="0.12" fill="#2a2a2a" textLength="22.50" lengthAdjust="spacingAndGlyphs">0.0000</text>
<text x="265.40" y="396.60" font-size="8.0" stroke="#2a2a2a" stroke-width="0.12" fill="#2a2a2a" textLength="20.00" lengthAdjust="spacingAndGlyphs">CEBP</text>
<text x="291.80" y="396.60" font-size="8.0" stroke="#2a2a2a" stroke-width="0.12" fill="#2a2a2a" textLength="22.80" lengthAdjust="spacingAndGlyphs">0.0168</text>
<text x="372.30" y="396.60" font-size="8.0" stroke="#2a2a2a" stroke-width="0.12" fill="#2a2a2a" textLength="13.50" lengthAdjust="spacingAndGlyphs">Max</text>
<text x="398.80" y="396.60" font-size="8.0" stroke="#2a2a2a" stroke-width="0.12" fill="#2a2a2a" textLength="22.50" lengthAdjust="spacingAndGlyphs">0.0000</text>
<text x="7.00" y="443.60" font-size="10.8" stroke="#000" stroke-width="0.12" font-weight="bold" fill="#000" textLength="6.60" lengthAdjust="spacingAndGlyphs">E</text>
<line x1="49.50" y1="446.30" x2="49.50" y2="521.80" stroke="#231f20" stroke-width="1.1"/>
<line x1="46.10" y1="521.80" x2="49.50" y2="521.80" stroke="#231f20" stroke-width="0.9"/>
<text x="43.50" y="524.65" font-size="8.1" stroke="#231f20" stroke-width="0.12" text-anchor="end" textLength="4.40" lengthAdjust="spacingAndGlyphs">0</text>
<line x1="46.10" y1="507.45" x2="49.50" y2="507.45" stroke="#231f20" stroke-width="0.9"/>
<text x="43.50" y="510.30" font-size="8.1" stroke="#231f20" stroke-width="0.12" text-anchor="end" textLength="4.40" lengthAdjust="spacingAndGlyphs">1</text>
<line x1="46.10" y1="493.10" x2="49.50" y2="493.10" stroke="#231f20" stroke-width="0.9"/>
<text x="43.50" y="495.95" font-size="8.1" stroke="#231f20" stroke-width="0.12" text-anchor="end" textLength="4.40" lengthAdjust="spacingAndGlyphs">2</text>
<line x1="46.10" y1="478.75" x2="49.50" y2="478.75" stroke="#231f20" stroke-width="0.9"/>
<text x="43.50" y="481.60" font-size="8.1" stroke="#231f20" stroke-width="0.12" text-anchor="end" textLength="4.40" lengthAdjust="spacingAndGlyphs">3</text>
<line x1="46.10" y1="464.40" x2="49.50" y2="464.40" stroke="#231f20" stroke-width="0.9"/>
<text x="43.50" y="467.25" font-size="8.1" stroke="#231f20" stroke-width="0.12" text-anchor="end" textLength="4.40" lengthAdjust="spacingAndGlyphs">4</text>
<line x1="46.10" y1="450.05" x2="49.50" y2="450.05" stroke="#231f20" stroke-width="0.9"/>
<text x="43.50" y="452.90" font-size="8.1" stroke="#231f20" stroke-width="0.12" text-anchor="end" textLength="4.40" lengthAdjust="spacingAndGlyphs">5</text>
<line x1="48.90" y1="521.70" x2="99.20" y2="521.70" stroke="#231f20" stroke-width="1.0"/>
<line x1="63.80" y1="521.70" x2="63.80" y2="524.10" stroke="#231f20" stroke-width="0.8"/>
<line x1="85.40" y1="521.70" x2="85.40" y2="524.10" stroke="#231f20" stroke-width="0.8"/>
<line x1="63.60" y1="506.40" x2="63.60" y2="507.40" stroke="#333" stroke-width="0.8"/>
<line x1="60.10" y1="506.40" x2="67.10" y2="506.40" stroke="#333" stroke-width="0.9"/>
<rect x="56.30" y="507.40" width="14.60" height="13.80" fill="#3db54a" stroke="#2f9a3c" stroke-width="0.5"/>
<line x1="85.05" y1="466.40" x2="85.05" y2="468.20" stroke="#333" stroke-width="0.8"/>
<line x1="81.40" y1="466.40" x2="88.70" y2="466.40" stroke="#333" stroke-width="0.9"/>
<rect x="77.90" y="468.20" width="14.30" height="53.00" fill="#14507f" stroke="#0c3d68" stroke-width="0.5"/>
<path d="M63.65 502.00 L63.65 457.50 L85.30 457.50 L85.30 463.20" stroke="#333" stroke-width="0.85" fill="none" stroke-linejoin="miter"/>
<path d="M68.83 452.05L68.83 454.75M67.66 452.72L69.99 454.07M69.99 452.72L67.66 454.07M72.88 452.05L72.88 454.75M71.71 452.72L74.04 454.07M74.04 452.72L71.71 454.07M76.92 452.05L76.92 454.75M75.76 452.72L78.09 454.07M78.09 452.72L75.76 454.07M80.97 452.05L80.97 454.75M79.81 452.72L82.14 454.07M82.14 452.72L79.81 454.07" stroke="#222" stroke-width="0.85" fill="none"/>
<text x="21.40" y="483.60" font-size="8.512" stroke="#231f20" stroke-width="0.12" text-anchor="middle" textLength="43.00" lengthAdjust="spacingAndGlyphs" transform="rotate(-90 21.40 483.60)">E-box activity</text>
<text x="32.10" y="483.20" font-size="8.512" stroke="#231f20" stroke-width="0.12" text-anchor="middle" textLength="73.20" lengthAdjust="spacingAndGlyphs" transform="rotate(-90 32.10 483.20)">Relative to CSF3R only</text>
<text x="40.50" y="559.70" font-size="8.6" stroke="#231f20" stroke-width="0.12" textLength="38.60" lengthAdjust="spacingAndGlyphs" transform="rotate(-45 40.50 559.70)">CSF3R<tspan font-size="5.2" dy="-3.2">T618I</tspan></text>
<text x="59.10" y="563.10" font-size="8.6" stroke="#231f20" stroke-width="0.12" textLength="44.60" lengthAdjust="spacingAndGlyphs" transform="rotate(-45 59.10 563.10)">CSF3R<tspan font-size="5.2" dy="-3.2">T618I</tspan><tspan dy="3.2"> +</tspan></text>
<text x="65.90" y="570.30" font-size="8.6" stroke="#231f20" stroke-width="0.12" textLength="47.00" lengthAdjust="spacingAndGlyphs" transform="rotate(-45 65.90 570.30)">SETBP1<tspan font-size="5.2" dy="-3.2">D868N</tspan></text>
<text x="135.20" y="443.20" font-size="10.8" stroke="#000" stroke-width="0.12" font-weight="bold" fill="#000" textLength="6.80" lengthAdjust="spacingAndGlyphs">F</text>
<line x1="173.80" y1="445.40" x2="173.80" y2="521.60" stroke="#231f20" stroke-width="1.1"/>
<line x1="170.40" y1="521.60" x2="173.80" y2="521.60" stroke="#231f20" stroke-width="0.9"/>
<text x="167.80" y="524.45" font-size="8.1" stroke="#231f20" stroke-width="0.12" text-anchor="end" textLength="4.40" lengthAdjust="spacingAndGlyphs">0</text>
<line x1="170.40" y1="497.53" x2="173.80" y2="497.53" stroke="#231f20" stroke-width="0.9"/>
<text x="167.80" y="500.38" font-size="8.1" stroke="#231f20" stroke-width="0.12" text-anchor="end" textLength="4.40" lengthAdjust="spacingAndGlyphs">1</text>
<line x1="170.40" y1="473.46" x2="173.80" y2="473.46" stroke="#231f20" stroke-width="0.9"/>
<text x="167.80" y="476.31" font-size="8.1" stroke="#231f20" stroke-width="0.12" text-anchor="end" textLength="4.40" lengthAdjust="spacingAndGlyphs">2</text>
<line x1="170.40" y1="449.39" x2="173.80" y2="449.39" stroke="#231f20" stroke-width="0.9"/>
<text x="167.80" y="452.24" font-size="8.1" stroke="#231f20" stroke-width="0.12" text-anchor="end" textLength="4.40" lengthAdjust="spacingAndGlyphs">3</text>
<line x1="171.80" y1="509.56" x2="173.80" y2="509.56" stroke="#231f20" stroke-width="0.8"/>
<line x1="171.80" y1="485.50" x2="173.80" y2="485.50" stroke="#231f20" stroke-width="0.8"/>
<line x1="171.80" y1="461.43" x2="173.80" y2="461.43" stroke="#231f20" stroke-width="0.8"/>
<line x1="173.30" y1="521.50" x2="253.70" y2="521.50" stroke="#231f20" stroke-width="1.0"/>
<line x1="188.10" y1="521.50" x2="188.10" y2="523.90" stroke="#231f20" stroke-width="0.8"/>
<line x1="205.30" y1="521.50" x2="205.30" y2="523.90" stroke="#231f20" stroke-width="0.8"/>
<line x1="222.70" y1="521.50" x2="222.70" y2="523.90" stroke="#231f20" stroke-width="0.8"/>
<line x1="239.90" y1="521.50" x2="239.90" y2="523.90" stroke="#231f20" stroke-width="0.8"/>
<line x1="188.25" y1="495.40" x2="188.25" y2="497.70" stroke="#333" stroke-width="0.8"/>
<line x1="184.95" y1="495.40" x2="191.55" y2="495.40" stroke="#333" stroke-width="0.9"/>
<rect x="181.50" y="497.70" width="13.50" height="23.30" fill="#bdbdc3" stroke="#aaaab0" stroke-width="0.5"/>
<line x1="205.35" y1="503.10" x2="205.35" y2="504.60" stroke="#333" stroke-width="0.8"/>
<line x1="202.20" y1="503.10" x2="208.50" y2="503.10" stroke="#333" stroke-width="0.9"/>
<rect x="198.80" y="504.60" width="13.10" height="16.40" fill="#3db54a" stroke="#2f9a3c" stroke-width="0.5"/>
<line x1="222.75" y1="479.20" x2="222.75" y2="480.30" stroke="#333" stroke-width="0.8"/>
<line x1="219.60" y1="479.20" x2="225.90" y2="479.20" stroke="#333" stroke-width="0.9"/>
<rect x="216.20" y="480.30" width="13.10" height="40.70" fill="#5b2570" stroke="#4a1a5e" stroke-width="0.5"/>
<line x1="239.85" y1="462.80" x2="239.85" y2="464.90" stroke="#333" stroke-width="0.8"/>
<line x1="236.65" y1="462.80" x2="243.05" y2="462.80" stroke="#333" stroke-width="0.9"/>
<rect x="233.20" y="464.90" width="13.30" height="56.10" fill="#c8132f" stroke="#b00f28" stroke-width="0.5"/>
<path d="M188.10 491.50 L188.10 469.20 L222.70 469.20 L222.70 474.20" stroke="#333" stroke-width="0.85" fill="none" stroke-linejoin="miter"/>
<path d="M188.10 464.60 L188.10 454.60 L239.60 454.60 L239.60 459.20" stroke="#333" stroke-width="0.85" fill="none" stroke-linejoin="miter"/>
<path d="M201.75 464.05L201.75 466.75M200.58 464.72L202.92 466.07M202.92 464.72L200.58 466.07M205.80 464.05L205.80 466.75M204.63 464.72L206.97 466.07M206.97 464.72L204.63 466.07M209.85 464.05L209.85 466.75M208.68 464.72L211.02 466.07M211.02 464.72L208.68 466.07" stroke="#222" stroke-width="0.85" fill="none"/>
<path d="M210.12 449.15L210.12 451.85M208.96 449.82L211.29 451.18M211.29 449.82L208.96 451.18M214.18 449.15L214.18 451.85M213.01 449.82L215.34 451.18M215.34 449.82L213.01 451.18M218.22 449.15L218.22 451.85M217.06 449.82L219.39 451.18M219.39 449.82L217.06 451.18M222.28 449.15L222.28 451.85M221.11 449.82L223.44 451.18M223.44 449.82L221.11 451.18" stroke="#222" stroke-width="0.85" fill="none"/>
<text x="146.20" y="483.50" font-size="8.512" stroke="#231f20" stroke-width="0.12" text-anchor="middle" textLength="43.00" lengthAdjust="spacingAndGlyphs" transform="rotate(-90 146.20 483.50)">E-box activity</text>
<text x="156.50" y="481.80" font-size="8.512" stroke="#231f20" stroke-width="0.12" text-anchor="middle" textLength="75.20" lengthAdjust="spacingAndGlyphs" transform="rotate(-90 156.50 481.80)">Relative to empty vector</text>
<text x="173.70" y="548.10" font-size="8.6" stroke="#231f20" stroke-width="0.12" textLength="24.60" lengthAdjust="spacingAndGlyphs" transform="rotate(-45 173.70 548.10)">Empty</text>
<text x="183.30" y="560.50" font-size="8.6" stroke="#231f20" stroke-width="0.12" textLength="38.60" lengthAdjust="spacingAndGlyphs" transform="rotate(-45 183.30 560.50)">CSF3R<tspan font-size="5.2" dy="-3.2">T618I</tspan></text>
<text x="201.10" y="559.70" font-size="8.6" stroke="#231f20" stroke-width="0.12" textLength="37.80" lengthAdjust="spacingAndGlyphs" transform="rotate(-45 201.10 559.70)">SETBP1<tspan font-size="5.2" dy="-3.2">WT</tspan></text>
<text x="212.90" y="565.90" font-size="8.6" stroke="#231f20" stroke-width="0.12" textLength="46.60" lengthAdjust="spacingAndGlyphs" transform="rotate(-45 212.90 565.90)">SETBP1<tspan font-size="5.2" dy="-3.2">D868N</tspan></text>
<text x="273.20" y="443.50" font-size="10.8" stroke="#000" stroke-width="0.12" font-weight="bold" fill="#000" textLength="8.80" lengthAdjust="spacingAndGlyphs">G</text>
<line x1="317.70" y1="446.20" x2="317.70" y2="521.40" stroke="#231f20" stroke-width="1.1"/>
<line x1="314.30" y1="521.10" x2="317.70" y2="521.10" stroke="#231f20" stroke-width="0.9"/>
<text x="311.70" y="523.95" font-size="8.1" stroke="#231f20" stroke-width="0.12" text-anchor="end" textLength="4.30" lengthAdjust="spacingAndGlyphs">0</text>
<line x1="314.30" y1="506.79" x2="317.70" y2="506.79" stroke="#231f20" stroke-width="0.9"/>
<text x="311.70" y="509.64" font-size="8.1" stroke="#231f20" stroke-width="0.12" text-anchor="end" textLength="8.60" lengthAdjust="spacingAndGlyphs">20</text>
<line x1="314.30" y1="492.48" x2="317.70" y2="492.48" stroke="#231f20" stroke-width="0.9"/>
<text x="311.70" y="495.33" font-size="8.1" stroke="#231f20" stroke-width="0.12" text-anchor="end" textLength="8.60" lengthAdjust="spacingAndGlyphs">40</text>
<line x1="314.30" y1="478.17" x2="317.70" y2="478.17" stroke="#231f20" stroke-width="0.9"/>
<text x="311.70" y="481.02" font-size="8.1" stroke="#231f20" stroke-width="0.12" text-anchor="end" textLength="8.60" lengthAdjust="spacingAndGlyphs">60</text>
<line x1="314.30" y1="463.86" x2="317.70" y2="463.86" stroke="#231f20" stroke-width="0.9"/>
<text x="311.70" y="466.71" font-size="8.1" stroke="#231f20" stroke-width="0.12" text-anchor="end" textLength="8.60" lengthAdjust="spacingAndGlyphs">80</text>
<line x1="314.30" y1="449.55" x2="317.70" y2="449.55" stroke="#231f20" stroke-width="0.9"/>
<text x="311.70" y="452.40" font-size="8.1" stroke="#231f20" stroke-width="0.12" text-anchor="end" textLength="12.90" lengthAdjust="spacingAndGlyphs">100</text>
<line x1="317.20" y1="521.10" x2="387.70" y2="521.10" stroke="#231f20" stroke-width="1.0"/>
<line x1="333.10" y1="521.10" x2="333.10" y2="523.50" stroke="#231f20" stroke-width="0.8"/>
<line x1="353.10" y1="521.10" x2="353.10" y2="523.50" stroke="#231f20" stroke-width="0.8"/>
<line x1="373.10" y1="521.10" x2="373.10" y2="523.50" stroke="#231f20" stroke-width="0.8"/>
<rect x="325.40" y="519.70" width="15.40" height="1.50" fill="#8e0c1a"/>
<line x1="353.30" y1="512.30" x2="353.30" y2="513.70" stroke="#333" stroke-width="0.8"/>
<line x1="350.05" y1="512.30" x2="356.55" y2="512.30" stroke="#333" stroke-width="0.9"/>
<rect x="345.80" y="513.70" width="15.00" height="6.90" fill="#3db54a" stroke="#2f9a3c" stroke-width="0.5"/>
<line x1="373.50" y1="460.80" x2="373.50" y2="463.40" stroke="#333" stroke-width="0.8"/>
<line x1="370.05" y1="460.80" x2="376.95" y2="460.80" stroke="#333" stroke-width="0.9"/>
<rect x="366.20" y="463.40" width="14.60" height="57.20" fill="#14507f" stroke="#0c3d68" stroke-width="0.5"/>
<path d="M333.10 515.40 L333.10 452.60 L351.50 452.60 L351.50 508.80" stroke="#333" stroke-width="0.85" fill="none" stroke-linejoin="miter"/>
<path d="M354.60 508.80 L354.60 452.60 L373.10 452.60 L373.10 457.20" stroke="#333" stroke-width="0.85" fill="none" stroke-linejoin="miter"/>
<path d="M333.10 448.00 L333.10 438.00 L373.10 438.00 L373.10 442.60" stroke="#333" stroke-width="0.85" fill="none" stroke-linejoin="miter"/>
<path d="M342.30 447.45L342.30 450.15M341.13 448.12L343.47 449.48M343.47 448.12L341.13 449.48" stroke="#222" stroke-width="0.85" fill="none"/>
<path d="M357.73 447.45L357.73 450.15M356.56 448.12L358.89 449.48M358.89 448.12L356.56 449.48M361.78 447.45L361.78 450.15M360.61 448.12L362.94 449.48M362.94 448.12L360.61 449.48M365.83 447.45L365.83 450.15M364.66 448.12L366.99 449.48M366.99 448.12L364.66 449.48M369.88 447.45L369.88 450.15M368.71 448.12L371.04 449.48M371.04 448.12L368.71 449.48" stroke="#222" stroke-width="0.85" fill="none"/>
<path d="M347.03 432.85L347.03 435.55M345.86 433.52L348.19 434.88M348.19 433.52L345.86 434.88M351.08 432.85L351.08 435.55M349.91 433.52L352.24 434.88M352.24 433.52L349.91 434.88M355.13 432.85L355.13 435.55M353.96 433.52L356.29 434.88M356.29 433.52L353.96 434.88M359.18 432.85L359.18 435.55M358.01 433.52L360.34 434.88M360.34 433.52L358.01 434.88" stroke="#222" stroke-width="0.85" fill="none"/>
<text x="293.80" y="482.30" font-size="8.512" stroke="#231f20" stroke-width="0.12" text-anchor="middle" textLength="75.00" lengthAdjust="spacingAndGlyphs" transform="rotate(-90 293.80 482.30)">Colonies (10,000 cells)</text>
<text x="305.70" y="561.30" font-size="8.6" stroke="#231f20" stroke-width="0.12" textLength="44.40" lengthAdjust="spacingAndGlyphs" transform="rotate(-45 305.70 561.30)">Myc+Empty</text>
<text x="309.90" y="577.30" font-size="8.6" stroke="#231f20" stroke-width="0.12" textLength="64.40" lengthAdjust="spacingAndGlyphs" transform="rotate(-45 309.90 577.30)">CSF3R<tspan font-size="5.2" dy="-3.2">T618I</tspan><tspan dy="3.2">+Empty</tspan></text>
<text x="334.10" y="573.10" font-size="8.6" stroke="#231f20" stroke-width="0.12" textLength="59.60" lengthAdjust="spacingAndGlyphs" transform="rotate(-45 334.10 573.10)">CSF3R<tspan font-size="5.2" dy="-3.2">T618I</tspan><tspan dy="3.2">+Myc</tspan></text>
<text x="403.60" y="443.20" font-size="10.8" stroke="#000" stroke-width="0.12" font-weight="bold" fill="#000" textLength="8.50" lengthAdjust="spacingAndGlyphs">H</text>
<line x1="455.30" y1="444.20" x2="455.30" y2="521.90" stroke="#231f20" stroke-width="1.1"/>
<line x1="451.90" y1="521.70" x2="455.30" y2="521.70" stroke="#231f20" stroke-width="0.9"/>
<text x="449.30" y="524.55" font-size="8.1" stroke="#231f20" stroke-width="0.12" text-anchor="end" textLength="10.60" lengthAdjust="spacingAndGlyphs">0.0</text>
<line x1="451.90" y1="497.37" x2="455.30" y2="497.37" stroke="#231f20" stroke-width="0.9"/>
<text x="449.30" y="500.22" font-size="8.1" stroke="#231f20" stroke-width="0.12" text-anchor="end" textLength="10.60" lengthAdjust="spacingAndGlyphs">0.5</text>
<line x1="451.90" y1="473.04" x2="455.30" y2="473.04" stroke="#231f20" stroke-width="0.9"/>
<text x="449.30" y="475.89" font-size="8.1" stroke="#231f20" stroke-width="0.12" text-anchor="end" textLength="10.60" lengthAdjust="spacingAndGlyphs">1.0</text>
<line x1="451.90" y1="448.71" x2="455.30" y2="448.71" stroke="#231f20" stroke-width="0.9"/>
<text x="449.30" y="451.56" font-size="8.1" stroke="#231f20" stroke-width="0.12" text-anchor="end" textLength="10.60" lengthAdjust="spacingAndGlyphs">1.5</text>
<line x1="453.30" y1="509.54" x2="455.30" y2="509.54" stroke="#231f20" stroke-width="0.8"/>
<line x1="453.30" y1="485.21" x2="455.30" y2="485.21" stroke="#231f20" stroke-width="0.8"/>
<line x1="453.30" y1="460.88" x2="455.30" y2="460.88" stroke="#231f20" stroke-width="0.8"/>
<line x1="454.80" y1="521.70" x2="512.50" y2="521.70" stroke="#231f20" stroke-width="1.0"/>
<line x1="471.90" y1="521.70" x2="471.90" y2="524.10" stroke="#231f20" stroke-width="0.8"/>
<line x1="496.30" y1="521.70" x2="496.30" y2="524.10" stroke="#231f20" stroke-width="0.8"/>
<line x1="471.90" y1="468.80" x2="471.90" y2="473.30" stroke="#333" stroke-width="0.8"/>
<line x1="468.40" y1="468.80" x2="475.40" y2="468.80" stroke="#333" stroke-width="0.9"/>
<rect x="463.90" y="473.30" width="16.00" height="47.90" fill="#3db54a" stroke="#2f9a3c" stroke-width="0.5"/>
<line x1="496.30" y1="497.10" x2="496.30" y2="499.00" stroke="#333" stroke-width="0.8"/>
<line x1="492.80" y1="497.10" x2="499.80" y2="497.10" stroke="#333" stroke-width="0.9"/>
<rect x="488.30" y="499.00" width="16.00" height="22.20" fill="#14507f" stroke="#0c3d68" stroke-width="0.5"/>
<path d="M471.60 465.00 L471.60 459.20 L496.20 459.20 L496.20 491.90" stroke="#333" stroke-width="0.85" fill="none" stroke-linejoin="miter"/>
<path d="M482.30 454.05L482.30 456.75M481.13 454.72L483.47 456.07M483.47 454.72L481.13 456.07M485.90 454.05L485.90 456.75M484.73 454.72L487.07 456.07M487.07 454.72L484.73 456.07" stroke="#222" stroke-width="0.85" fill="none"/>
<text x="470.40" y="533.70" font-size="8.4" stroke="#231f20" stroke-width="0.12" text-anchor="middle" textLength="22.60" lengthAdjust="spacingAndGlyphs">DOX–</text>
<text x="498.70" y="533.70" font-size="8.4" stroke="#231f20" stroke-width="0.12" text-anchor="middle" textLength="22.90" lengthAdjust="spacingAndGlyphs">DOX+</text>
<text x="485.10" y="544.20" font-size="9.6" stroke="#231f20" stroke-width="0.12" text-anchor="middle" textLength="40.00" lengthAdjust="spacingAndGlyphs"><tspan font-style="italic">Myb</tspan> shRNA</text>
<text x="485.10" y="553.50" font-size="7.4" stroke="#231f20" stroke-width="0.12" text-anchor="middle" textLength="28.30" lengthAdjust="spacingAndGlyphs">(DOX ON)</text>
<text x="421.30" y="483.00" font-size="9.0" stroke="#231f20" stroke-width="0.12" text-anchor="middle" textLength="70.30" lengthAdjust="spacingAndGlyphs" transform="rotate(-90 421.30 483.00)"><tspan font-style="italic">Myb</tspan> gene expression</text>
<text x="432.00" y="482.80" font-size="9.0" stroke="#231f20" stroke-width="0.12" text-anchor="middle" textLength="93.80" lengthAdjust="spacingAndGlyphs" transform="rotate(-90 432.00 482.80)">Fold change relative to DOX-</text>
<text x="6.60" y="585.30" font-size="10.8" stroke="#000" stroke-width="0.12" font-weight="bold" fill="#000" textLength="2.90" lengthAdjust="spacingAndGlyphs">I</text>
<line x1="49.40" y1="594.10" x2="49.40" y2="671.70" stroke="#231f20" stroke-width="1.1"/>
<line x1="46.00" y1="671.50" x2="49.40" y2="671.50" stroke="#231f20" stroke-width="0.9"/>
<text x="43.40" y="674.35" font-size="8.1" stroke="#231f20" stroke-width="0.12" text-anchor="end" textLength="10.60" lengthAdjust="spacingAndGlyphs">0.0</text>
<line x1="46.00" y1="647.03" x2="49.40" y2="647.03" stroke="#231f20" stroke-width="0.9"/>
<text x="43.40" y="649.88" font-size="8.1" stroke="#231f20" stroke-width="0.12" text-anchor="end" textLength="10.60" lengthAdjust="spacingAndGlyphs">0.5</text>
<line x1="46.00" y1="622.56" x2="49.40" y2="622.56" stroke="#231f20" stroke-width="0.9"/>
<text x="43.40" y="625.41" font-size="8.1" stroke="#231f20" stroke-width="0.12" text-anchor="end" textLength="10.60" lengthAdjust="spacingAndGlyphs">1.0</text>
<line x1="46.00" y1="598.09" x2="49.40" y2="598.09" stroke="#231f20" stroke-width="0.9"/>
<text x="43.40" y="600.94" font-size="8.1" stroke="#231f20" stroke-width="0.12" text-anchor="end" textLength="10.60" lengthAdjust="spacingAndGlyphs">1.5</text>
<line x1="47.40" y1="659.26" x2="49.40" y2="659.26" stroke="#231f20" stroke-width="0.8"/>
<line x1="47.40" y1="634.79" x2="49.40" y2="634.79" stroke="#231f20" stroke-width="0.8"/>
<line x1="47.40" y1="610.33" x2="49.40" y2="610.33" stroke="#231f20" stroke-width="0.8"/>
<line x1="48.90" y1="671.50" x2="106.60" y2="671.50" stroke="#231f20" stroke-width="1.0"/>
<line x1="65.90" y1="671.50" x2="65.90" y2="673.90" stroke="#231f20" stroke-width="0.8"/>
<line x1="89.80" y1="671.50" x2="89.80" y2="673.90" stroke="#231f20" stroke-width="0.8"/>
<line x1="65.90" y1="620.40" x2="65.90" y2="622.80" stroke="#333" stroke-width="0.8"/>
<line x1="62.40" y1="620.40" x2="69.40" y2="620.40" stroke="#333" stroke-width="0.9"/>
<rect x="57.90" y="622.80" width="16.00" height="48.20" fill="#3db54a" stroke="#2f9a3c" stroke-width="0.5"/>
<line x1="89.80" y1="644.60" x2="89.80" y2="645.60" stroke="#333" stroke-width="0.8"/>
<line x1="86.30" y1="644.60" x2="93.30" y2="644.60" stroke="#333" stroke-width="0.9"/>
<rect x="81.80" y="645.60" width="16.00" height="25.40" fill="#14507f" stroke="#0c3d68" stroke-width="0.5"/>
<path d="M65.20 619.30 L65.20 600.80 L90.90 600.80 L90.90 640.60" stroke="#333" stroke-width="0.85" fill="none" stroke-linejoin="miter"/>
<path d="M75.10 596.15L75.10 598.85M73.93 596.83L76.27 598.17M76.27 596.83L73.93 598.17M78.70 596.15L78.70 598.85M77.53 596.83L79.87 598.17M79.87 596.83L77.53 598.17M82.30 596.15L82.30 598.85M81.13 596.83L83.47 598.17M83.47 596.83L81.13 598.17" stroke="#222" stroke-width="0.85" fill="none"/>
<text x="64.40" y="683.50" font-size="8.4" stroke="#231f20" stroke-width="0.12" text-anchor="middle" textLength="22.60" lengthAdjust="spacingAndGlyphs">DOX–</text>
<text x="92.20" y="683.50" font-size="8.4" stroke="#231f20" stroke-width="0.12" text-anchor="middle" textLength="22.90" lengthAdjust="spacingAndGlyphs">DOX+</text>
<text x="78.85" y="694.00" font-size="9.6" stroke="#231f20" stroke-width="0.12" text-anchor="middle" textLength="40.00" lengthAdjust="spacingAndGlyphs"><tspan font-style="italic">Myb</tspan> shRNA</text>
<text x="78.85" y="703.30" font-size="7.4" stroke="#231f20" stroke-width="0.12" text-anchor="middle" textLength="28.30" lengthAdjust="spacingAndGlyphs">(DOX ON)</text>
<text x="15.90" y="633.00" font-size="9.0" stroke="#231f20" stroke-width="0.12" text-anchor="middle" textLength="70.30" lengthAdjust="spacingAndGlyphs" transform="rotate(-90 15.90 633.00)"><tspan font-style="italic">Myc</tspan> gene expression</text>
<text x="27.00" y="633.00" font-size="9.0" stroke="#231f20" stroke-width="0.12" text-anchor="middle" textLength="93.50" lengthAdjust="spacingAndGlyphs" transform="rotate(-90 27.00 633.00)">Fold change relative to DOX-</text>
<line x1="173.40" y1="594.10" x2="173.40" y2="671.70" stroke="#231f20" stroke-width="1.1"/>
<line x1="170.00" y1="671.50" x2="173.40" y2="671.50" stroke="#231f20" stroke-width="0.9"/>
<text x="167.40" y="674.35" font-size="8.1" stroke="#231f20" stroke-width="0.12" text-anchor="end" textLength="10.60" lengthAdjust="spacingAndGlyphs">0.0</text>
<line x1="170.00" y1="653.15" x2="173.40" y2="653.15" stroke="#231f20" stroke-width="0.9"/>
<text x="167.40" y="656.00" font-size="8.1" stroke="#231f20" stroke-width="0.12" text-anchor="end" textLength="10.60" lengthAdjust="spacingAndGlyphs">0.5</text>
<line x1="170.00" y1="634.80" x2="173.40" y2="634.80" stroke="#231f20" stroke-width="0.9"/>
<text x="167.40" y="637.65" font-size="8.1" stroke="#231f20" stroke-width="0.12" text-anchor="end" textLength="10.60" lengthAdjust="spacingAndGlyphs">1.0</text>
<line x1="170.00" y1="616.45" x2="173.40" y2="616.45" stroke="#231f20" stroke-width="0.9"/>
<text x="167.40" y="619.30" font-size="8.1" stroke="#231f20" stroke-width="0.12" text-anchor="end" textLength="10.60" lengthAdjust="spacingAndGlyphs">1.5</text>
<line x1="170.00" y1="598.10" x2="173.40" y2="598.10" stroke="#231f20" stroke-width="0.9"/>
<text x="167.40" y="600.95" font-size="8.1" stroke="#231f20" stroke-width="0.12" text-anchor="end" textLength="10.60" lengthAdjust="spacingAndGlyphs">2.0</text>
<line x1="171.40" y1="662.33" x2="173.40" y2="662.33" stroke="#231f20" stroke-width="0.8"/>
<line x1="171.40" y1="643.98" x2="173.40" y2="643.98" stroke="#231f20" stroke-width="0.8"/>
<line x1="171.40" y1="625.62" x2="173.40" y2="625.62" stroke="#231f20" stroke-width="0.8"/>
<line x1="171.40" y1="607.27" x2="173.40" y2="607.27" stroke="#231f20" stroke-width="0.8"/>
<line x1="172.90" y1="671.50" x2="230.60" y2="671.50" stroke="#231f20" stroke-width="1.0"/>
<line x1="190.50" y1="671.50" x2="190.50" y2="673.90" stroke="#231f20" stroke-width="0.8"/>
<line x1="215.40" y1="671.50" x2="215.40" y2="673.90" stroke="#231f20" stroke-width="0.8"/>
<line x1="190.50" y1="628.40" x2="190.50" y2="634.90" stroke="#333" stroke-width="0.8"/>
<line x1="187.00" y1="628.40" x2="194.00" y2="628.40" stroke="#333" stroke-width="0.9"/>
<rect x="182.50" y="634.90" width="16.00" height="36.10" fill="#3db54a" stroke="#2f9a3c" stroke-width="0.5"/>
<line x1="215.40" y1="618.70" x2="215.40" y2="626.00" stroke="#333" stroke-width="0.8"/>
<line x1="211.90" y1="618.70" x2="218.90" y2="618.70" stroke="#333" stroke-width="0.9"/>
<rect x="207.40" y="626.00" width="16.00" height="45.00" fill="#14507f" stroke="#0c3d68" stroke-width="0.5"/>
<path d="M190.20 624.40 L190.20 609.60 L215.90 609.60 L215.90 614.90" stroke="#333" stroke-width="0.85" fill="none" stroke-linejoin="miter"/>
<text x="203.10" y="606.20" font-size="7.4" stroke="#231f20" stroke-width="0.12" text-anchor="middle" textLength="9.00" lengthAdjust="spacingAndGlyphs">ns</text>
<text x="189.00" y="683.50" font-size="8.4" stroke="#231f20" stroke-width="0.12" text-anchor="middle" textLength="22.60" lengthAdjust="spacingAndGlyphs">DOX–</text>
<text x="217.80" y="683.50" font-size="8.4" stroke="#231f20" stroke-width="0.12" text-anchor="middle" textLength="22.90" lengthAdjust="spacingAndGlyphs">DOX+</text>
<text x="203.95" y="694.00" font-size="9.6" stroke="#231f20" stroke-width="0.12" text-anchor="middle" textLength="40.00" lengthAdjust="spacingAndGlyphs"><tspan font-style="italic">Myb</tspan> shRNA</text>
<text x="203.95" y="703.30" font-size="7.4" stroke="#231f20" stroke-width="0.12" text-anchor="middle" textLength="28.30" lengthAdjust="spacingAndGlyphs">(DOX ON)</text>
<text x="140.90" y="633.70" font-size="9.0" stroke="#231f20" stroke-width="0.12" text-anchor="middle" textLength="78.00" lengthAdjust="spacingAndGlyphs" transform="rotate(-90 140.90 633.70)"><tspan font-style="italic">Meis1</tspan> gene expression</text>
<text x="151.70" y="633.20" font-size="9.0" stroke="#231f20" stroke-width="0.12" text-anchor="middle" textLength="93.50" lengthAdjust="spacingAndGlyphs" transform="rotate(-90 151.70 633.20)">Fold change relative to DOX-</text>
<line x1="317.90" y1="594.10" x2="317.90" y2="671.70" stroke="#231f20" stroke-width="1.1"/>
<line x1="314.50" y1="671.50" x2="317.90" y2="671.50" stroke="#231f20" stroke-width="0.9"/>
<text x="311.90" y="674.35" font-size="8.1" stroke="#231f20" stroke-width="0.12" text-anchor="end" textLength="10.60" lengthAdjust="spacingAndGlyphs">0.0</text>
<line x1="314.50" y1="647.00" x2="317.90" y2="647.00" stroke="#231f20" stroke-width="0.9"/>
<text x="311.90" y="649.85" font-size="8.1" stroke="#231f20" stroke-width="0.12" text-anchor="end" textLength="10.60" lengthAdjust="spacingAndGlyphs">0.5</text>
<line x1="314.50" y1="622.50" x2="317.90" y2="622.50" stroke="#231f20" stroke-width="0.9"/>
<text x="311.90" y="625.35" font-size="8.1" stroke="#231f20" stroke-width="0.12" text-anchor="end" textLength="10.60" lengthAdjust="spacingAndGlyphs">1.0</text>
<line x1="314.50" y1="598.00" x2="317.90" y2="598.00" stroke="#231f20" stroke-width="0.9"/>
<text x="311.90" y="600.85" font-size="8.1" stroke="#231f20" stroke-width="0.12" text-anchor="end" textLength="10.60" lengthAdjust="spacingAndGlyphs">1.5</text>
<line x1="315.90" y1="659.25" x2="317.90" y2="659.25" stroke="#231f20" stroke-width="0.8"/>
<line x1="315.90" y1="634.75" x2="317.90" y2="634.75" stroke="#231f20" stroke-width="0.8"/>
<line x1="315.90" y1="610.25" x2="317.90" y2="610.25" stroke="#231f20" stroke-width="0.8"/>
<line x1="317.40" y1="671.50" x2="375.10" y2="671.50" stroke="#231f20" stroke-width="1.0"/>
<line x1="334.00" y1="671.50" x2="334.00" y2="673.90" stroke="#231f20" stroke-width="0.8"/>
<line x1="358.80" y1="671.50" x2="358.80" y2="673.90" stroke="#231f20" stroke-width="0.8"/>
<line x1="334.00" y1="620.40" x2="334.00" y2="622.40" stroke="#333" stroke-width="0.8"/>
<line x1="330.50" y1="620.40" x2="337.50" y2="620.40" stroke="#333" stroke-width="0.9"/>
<rect x="326.00" y="622.40" width="16.00" height="48.60" fill="#3db54a" stroke="#2f9a3c" stroke-width="0.5"/>
<line x1="358.80" y1="624.40" x2="358.80" y2="626.00" stroke="#333" stroke-width="0.8"/>
<line x1="355.30" y1="624.40" x2="362.30" y2="624.40" stroke="#333" stroke-width="0.9"/>
<rect x="350.80" y="626.00" width="16.00" height="45.00" fill="#14507f" stroke="#0c3d68" stroke-width="0.5"/>
<path d="M333.60 616.90 L333.60 611.90 L358.90 611.90 L358.90 620.40" stroke="#333" stroke-width="0.85" fill="none" stroke-linejoin="miter"/>
<text x="346.80" y="608.80" font-size="7.4" stroke="#231f20" stroke-width="0.12" text-anchor="middle" textLength="9.00" lengthAdjust="spacingAndGlyphs">ns</text>
<text x="332.50" y="683.50" font-size="8.4" stroke="#231f20" stroke-width="0.12" text-anchor="middle" textLength="22.60" lengthAdjust="spacingAndGlyphs">DOX–</text>
<text x="361.20" y="683.50" font-size="8.4" stroke="#231f20" stroke-width="0.12" text-anchor="middle" textLength="22.90" lengthAdjust="spacingAndGlyphs">DOX+</text>
<text x="347.40" y="694.00" font-size="9.6" stroke="#231f20" stroke-width="0.12" text-anchor="middle" textLength="40.00" lengthAdjust="spacingAndGlyphs"><tspan font-style="italic">Myb</tspan> shRNA</text>
<text x="347.40" y="703.30" font-size="7.4" stroke="#231f20" stroke-width="0.12" text-anchor="middle" textLength="28.30" lengthAdjust="spacingAndGlyphs">(DOX ON)</text>
<text x="283.60" y="631.80" font-size="9.0" stroke="#231f20" stroke-width="0.12" text-anchor="middle" textLength="74.20" lengthAdjust="spacingAndGlyphs" transform="rotate(-90 283.60 631.80)"><tspan font-style="italic">Hoxa9</tspan> gene expression</text>
<text x="294.40" y="633.70" font-size="9.0" stroke="#231f20" stroke-width="0.12" text-anchor="middle" textLength="93.50" lengthAdjust="spacingAndGlyphs" transform="rotate(-90 294.40 633.70)">Fold change relative to DOX-</text>
<line x1="455.50" y1="594.10" x2="455.50" y2="671.70" stroke="#231f20" stroke-width="1.1"/>
<line x1="452.10" y1="671.50" x2="455.50" y2="671.50" stroke="#231f20" stroke-width="0.9"/>
<text x="449.50" y="674.35" font-size="8.1" stroke="#231f20" stroke-width="0.12" text-anchor="end" textLength="10.60" lengthAdjust="spacingAndGlyphs">0.0</text>
<line x1="452.10" y1="647.00" x2="455.50" y2="647.00" stroke="#231f20" stroke-width="0.9"/>
<text x="449.50" y="649.85" font-size="8.1" stroke="#231f20" stroke-width="0.12" text-anchor="end" textLength="10.60" lengthAdjust="spacingAndGlyphs">0.5</text>
<line x1="452.10" y1="622.50" x2="455.50" y2="622.50" stroke="#231f20" stroke-width="0.9"/>
<text x="449.50" y="625.35" font-size="8.1" stroke="#231f20" stroke-width="0.12" text-anchor="end" textLength="10.60" lengthAdjust="spacingAndGlyphs">1.0</text>
<line x1="452.10" y1="598.00" x2="455.50" y2="598.00" stroke="#231f20" stroke-width="0.9"/>
<text x="449.50" y="600.85" font-size="8.1" stroke="#231f20" stroke-width="0.12" text-anchor="end" textLength="10.60" lengthAdjust="spacingAndGlyphs">1.5</text>
<line x1="453.50" y1="659.25" x2="455.50" y2="659.25" stroke="#231f20" stroke-width="0.8"/>
<line x1="453.50" y1="634.75" x2="455.50" y2="634.75" stroke="#231f20" stroke-width="0.8"/>
<line x1="453.50" y1="610.25" x2="455.50" y2="610.25" stroke="#231f20" stroke-width="0.8"/>
<line x1="455.00" y1="671.50" x2="512.70" y2="671.50" stroke="#231f20" stroke-width="1.0"/>
<line x1="471.50" y1="671.50" x2="471.50" y2="673.90" stroke="#231f20" stroke-width="0.8"/>
<line x1="496.40" y1="671.50" x2="496.40" y2="673.90" stroke="#231f20" stroke-width="0.8"/>
<line x1="471.50" y1="620.00" x2="471.50" y2="622.40" stroke="#333" stroke-width="0.8"/>
<line x1="468.00" y1="620.00" x2="475.00" y2="620.00" stroke="#333" stroke-width="0.9"/>
<rect x="463.50" y="622.40" width="16.00" height="48.60" fill="#3db54a" stroke="#2f9a3c" stroke-width="0.5"/>
<line x1="496.40" y1="629.40" x2="496.40" y2="632.90" stroke="#333" stroke-width="0.8"/>
<line x1="492.90" y1="629.40" x2="499.90" y2="629.40" stroke="#333" stroke-width="0.9"/>
<rect x="488.40" y="632.90" width="16.00" height="38.10" fill="#14507f" stroke="#0c3d68" stroke-width="0.5"/>
<path d="M471.60 618.30 L471.60 610.90 L496.90 610.90 L496.90 625.00" stroke="#333" stroke-width="0.85" fill="none" stroke-linejoin="miter"/>
<path d="M484.30 605.85L484.30 608.55M483.13 606.53L485.47 607.88M485.47 606.53L483.13 607.88" stroke="#222" stroke-width="0.85" fill="none"/>
<text x="470.00" y="683.50" font-size="8.4" stroke="#231f20" stroke-width="0.12" text-anchor="middle" textLength="22.60" lengthAdjust="spacingAndGlyphs">DOX–</text>
<text x="498.80" y="683.50" font-size="8.4" stroke="#231f20" stroke-width="0.12" text-anchor="middle" textLength="22.90" lengthAdjust="spacingAndGlyphs">DOX+</text>
<text x="484.95" y="694.00" font-size="9.6" stroke="#231f20" stroke-width="0.12" text-anchor="middle" textLength="40.00" lengthAdjust="spacingAndGlyphs"><tspan font-style="italic">Myb</tspan> shRNA</text>
<text x="484.95" y="703.30" font-size="7.4" stroke="#231f20" stroke-width="0.12" text-anchor="middle" textLength="28.30" lengthAdjust="spacingAndGlyphs">(DOX ON)</text>
<text x="422.00" y="631.00" font-size="9.0" stroke="#231f20" stroke-width="0.12" text-anchor="middle" textLength="78.80" lengthAdjust="spacingAndGlyphs" transform="rotate(-90 422.00 631.00)"><tspan font-style="italic">Hoxa10</tspan> gene expression</text>
<text x="432.40" y="633.00" font-size="9.0" stroke="#231f20" stroke-width="0.12" text-anchor="middle" textLength="93.50" lengthAdjust="spacingAndGlyphs" transform="rotate(-90 432.40 633.00)">Fold change relative to DOX-</text>
<rect x="0.5" y="0.5" width="519" height="711" fill="none" stroke="#000" stroke-width="1.2"/>
</svg></body></html>
